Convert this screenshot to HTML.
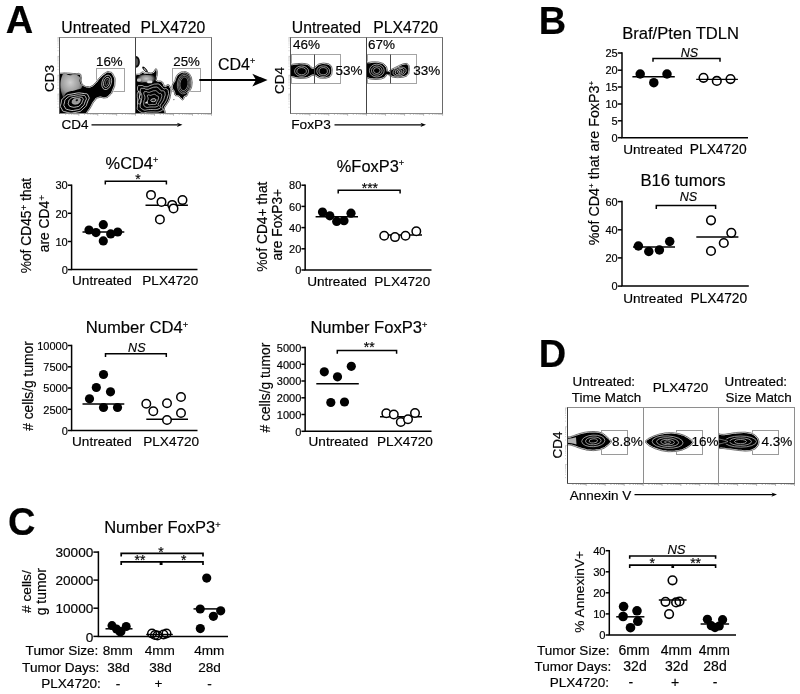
<!DOCTYPE html>
<html><head><meta charset="utf-8"><title>Figure</title>
<style>
html,body{margin:0;padding:0;background:#fff;}
svg{display:block;}
svg text{font-family:"Liberation Sans", Arial, Helvetica, sans-serif;fill:#000;stroke:#000;stroke-width:0.18px;}
</style></head><body>
<svg width="800" height="694" viewBox="0 0 800 694">
<rect width="800" height="694" fill="#fff"/>
<g opacity="0.999">
<text x="5.70" y="33.20" font-size="38.00" text-anchor="start" font-weight="bold" stroke="#000" stroke-width="0.6">A</text>
<text x="538.80" y="33.60" font-size="38.00" text-anchor="start" font-weight="bold" stroke="#000" stroke-width="0.6">B</text>
<text x="8.00" y="535.00" font-size="38.00" text-anchor="start" font-weight="bold" stroke="#000" stroke-width="0.6">C</text>
<text x="538.70" y="366.90" font-size="38.00" text-anchor="start" font-weight="bold" stroke="#000" stroke-width="0.6">D</text>
<defs><filter id="soft" x="-5%" y="-5%" width="110%" height="110%"><feGaussianBlur stdDeviation="0.35"/></filter><linearGradient id="gfade" x1="0" y1="0" x2="1" y2="1"><stop offset="0" stop-color="#bbb"/><stop offset="1" stop-color="#222"/></linearGradient><radialGradient id="ggrey2" cx="0.45" cy="0.4" r="0.75"><stop offset="0" stop-color="#cfcfcf"/><stop offset="0.55" stop-color="#9a9a9a"/><stop offset="1" stop-color="#2a2a2a"/></radialGradient><radialGradient id="ggrey"><stop offset="0" stop-color="#c8c8c8"/><stop offset="0.6" stop-color="#888"/><stop offset="1" stop-color="#000"/></radialGradient></defs>
<text x="61.30" y="32.90" font-size="15.75" text-anchor="start">Untreated</text>
<text x="140.40" y="32.90" font-size="15.75" text-anchor="start">PLX4720</text>
<rect x="96.50" y="68.50" width="28.00" height="23.00" fill="none" stroke="#a4a4a4" stroke-width="1.00"/>
<rect x="172.50" y="68.50" width="28.00" height="23.00" fill="none" stroke="#a4a4a4" stroke-width="1.00"/>
<g filter="url(#soft)">
<clipPath id="c1"><rect x="60" y="38" width="75" height="75"/></clipPath>
<g clip-path="url(#c1)">
<path d="M40.00 73.20 C44.00 57.60 45.33 73.20 52.00 73.20 C58.67 73.20 55.33 73.27 60.00 73.20 C64.67 73.13 61.00 72.87 66.00 73.00 C71.00 73.13 70.50 73.33 75.00 73.60 C79.50 73.87 77.43 72.80 79.50 73.80 C81.57 74.80 80.50 73.70 81.20 76.60 C81.90 79.50 80.60 79.50 81.60 82.50 C82.60 85.50 82.07 84.23 84.20 85.60 C86.33 86.97 85.57 86.47 88.00 86.60 C90.43 86.73 88.97 87.37 91.50 86.00 C94.03 84.63 92.77 85.43 95.60 82.50 C98.43 79.57 96.80 80.40 100.00 77.20 C103.20 74.00 102.00 74.67 105.20 72.90 C108.40 71.13 106.80 71.10 109.60 71.90 C112.40 72.70 111.80 71.77 113.60 75.30 C115.40 78.83 115.23 77.47 115.00 82.50 C114.77 87.53 114.70 86.03 112.90 90.40 C111.10 94.77 112.17 93.10 109.60 95.60 C107.03 98.10 108.70 97.23 105.20 97.90 C101.70 98.57 102.60 96.60 99.10 97.60 C95.60 98.60 97.60 97.47 94.70 100.90 C91.80 104.33 93.13 103.53 90.40 107.90 C87.67 112.27 88.63 109.97 86.50 114.00 C84.37 118.03 99.50 118.00 84.00 120.00 C68.50 122.00 54.67 135.60 40.00 120.00 C25.33 104.40 36.00 88.80 40.00 73.20 Z" fill="#000"/>
<path d="M40.00 73.20 C44.00 57.60 45.33 73.20 52.00 73.20 C58.67 73.20 55.33 73.27 60.00 73.20 C64.67 73.13 61.00 72.87 66.00 73.00 C71.00 73.13 70.50 73.33 75.00 73.60 C79.50 73.87 77.43 72.80 79.50 73.80 C81.57 74.80 80.50 73.70 81.20 76.60 C81.90 79.50 80.60 79.50 81.60 82.50 C82.60 85.50 82.07 84.23 84.20 85.60 C86.33 86.97 85.57 86.47 88.00 86.60 C90.43 86.73 88.97 87.37 91.50 86.00 C94.03 84.63 92.77 85.43 95.60 82.50 C98.43 79.57 96.80 80.40 100.00 77.20 C103.20 74.00 102.00 74.67 105.20 72.90 C108.40 71.13 106.80 71.10 109.60 71.90 C112.40 72.70 111.80 71.77 113.60 75.30 C115.40 78.83 115.23 77.47 115.00 82.50 C114.77 87.53 114.70 86.03 112.90 90.40 C111.10 94.77 112.17 93.10 109.60 95.60 C107.03 98.10 108.70 97.23 105.20 97.90 C101.70 98.57 102.60 96.60 99.10 97.60 C95.60 98.60 97.60 97.47 94.70 100.90 C91.80 104.33 93.13 103.53 90.40 107.90 C87.67 112.27 88.63 109.97 86.50 114.00 C84.37 118.03 99.50 118.00 84.00 120.00 C68.50 122.00 54.67 135.60 40.00 120.00 C25.33 104.40 36.00 88.80 40.00 73.20 Z" fill="none" stroke="#fff" stroke-width="1.7"/>
<path d="M40.00 73.20 C44.00 57.60 45.33 73.20 52.00 73.20 C58.67 73.20 55.33 73.27 60.00 73.20 C64.67 73.13 61.00 72.87 66.00 73.00 C71.00 73.13 70.50 73.33 75.00 73.60 C79.50 73.87 77.43 72.80 79.50 73.80 C81.57 74.80 80.50 73.70 81.20 76.60 C81.90 79.50 80.60 79.50 81.60 82.50 C82.60 85.50 82.07 84.23 84.20 85.60 C86.33 86.97 85.57 86.47 88.00 86.60 C90.43 86.73 88.97 87.37 91.50 86.00 C94.03 84.63 92.77 85.43 95.60 82.50 C98.43 79.57 96.80 80.40 100.00 77.20 C103.20 74.00 102.00 74.67 105.20 72.90 C108.40 71.13 106.80 71.10 109.60 71.90 C112.40 72.70 111.80 71.77 113.60 75.30 C115.40 78.83 115.23 77.47 115.00 82.50 C114.77 87.53 114.70 86.03 112.90 90.40 C111.10 94.77 112.17 93.10 109.60 95.60 C107.03 98.10 108.70 97.23 105.20 97.90 C101.70 98.57 102.60 96.60 99.10 97.60 C95.60 98.60 97.60 97.47 94.70 100.90 C91.80 104.33 93.13 103.53 90.40 107.90 C87.67 112.27 88.63 109.97 86.50 114.00 C84.37 118.03 99.50 118.00 84.00 120.00 C68.50 122.00 54.67 135.60 40.00 120.00 C25.33 104.40 36.00 88.80 40.00 73.20 Z" fill="none" stroke="#000" stroke-width="0.6"/>
<path d="M62.00 76.00 C64.60 69.40 64.40 75.13 70.00 75.20 C75.60 75.27 75.53 73.93 78.80 76.20 C82.07 78.47 78.73 78.40 79.80 82.00 C80.87 85.60 83.27 84.33 82.00 87.00 C80.73 89.67 80.67 88.33 76.00 90.00 C71.33 91.67 72.60 90.33 68.00 92.00 C63.40 93.67 64.20 100.33 62.20 95.00 C60.20 89.67 59.40 82.60 62.00 76.00 Z" fill="url(#ggrey2)" stroke="none" stroke-width="0.00"/>
<path d="M61.00 103.50 C62.00 99.67 60.50 100.23 64.50 97.00 C68.50 93.77 66.83 95.00 73.00 93.80 C79.17 92.60 77.87 92.67 83.00 93.40 C88.13 94.13 86.90 93.13 88.40 96.00 C89.90 98.87 89.13 97.83 87.50 102.00 C85.87 106.17 87.33 105.07 83.50 108.50 C79.67 111.93 81.83 111.13 76.00 112.30 C70.17 113.47 70.83 113.27 66.00 112.00 C61.17 110.73 63.17 111.33 61.50 108.50 C59.83 105.67 60.00 107.33 61.00 103.50 Z" fill="none" stroke="#fff" stroke-width="0.80"/>
<path d="M64.37 103.08 C65.15 100.09 63.98 100.53 67.10 98.01 C70.22 95.49 68.92 96.45 73.73 95.52 C78.54 94.58 77.52 94.63 81.53 95.20 C85.53 95.78 84.57 95.00 85.74 97.23 C86.91 99.47 86.31 98.66 85.04 101.91 C83.76 105.16 84.91 104.30 81.92 106.98 C78.93 109.66 80.62 109.04 76.07 109.95 C71.52 110.86 72.04 110.70 68.27 109.71 C64.50 108.72 66.06 109.19 64.76 106.98 C63.46 104.77 63.59 106.07 64.37 103.08 Z" fill="none" stroke="#fff" stroke-width="0.75"/>
<path d="M68.58 102.30 C69.10 100.31 68.32 100.60 70.40 98.92 C72.48 97.24 71.62 97.88 74.82 97.26 C78.03 96.63 77.35 96.67 80.02 97.05 C82.69 97.43 82.05 96.91 82.83 98.40 C83.61 99.89 83.21 99.35 82.36 101.52 C81.51 103.69 82.28 103.11 80.28 104.90 C78.29 106.69 79.42 106.27 76.38 106.88 C73.35 107.48 73.70 107.38 71.18 106.72 C68.67 106.06 69.71 106.37 68.84 104.90 C67.98 103.43 68.06 104.29 68.58 102.30 Z" fill="none" stroke="#fff" stroke-width="0.75"/>
<path d="M72.20 101.47 C72.50 100.32 72.05 100.49 73.25 99.52 C74.45 98.55 73.95 98.92 75.80 98.56 C77.65 98.20 77.26 98.22 78.80 98.44 C80.34 98.66 79.97 98.36 80.42 99.22 C80.87 100.08 80.64 99.77 80.15 101.02 C79.66 102.27 80.10 101.94 78.95 102.97 C77.80 104.00 78.45 103.76 76.70 104.11 C74.95 104.46 75.15 104.40 73.70 104.02 C72.25 103.64 72.85 103.82 72.35 102.97 C71.85 102.12 71.90 102.62 72.20 101.47 Z" fill="#9a9a9a" stroke="#ddd" stroke-width="0.50"/>
<ellipse cx="76.90" cy="100.20" rx="1.30" ry="0.90" transform="rotate(-20 76.90 100.20)" fill="#111" stroke="none" stroke-width="0.60"/>
<ellipse cx="106.70" cy="82.40" rx="4.70" ry="7.40" transform="rotate(16 106.70 82.40)" fill="none" stroke="#fff" stroke-width="0.60"/>
<ellipse cx="106.70" cy="82.40" rx="3.00" ry="5.20" transform="rotate(16 106.70 82.40)" fill="none" stroke="#fff" stroke-width="0.60"/>
<ellipse cx="106.80" cy="82.30" rx="1.30" ry="3.20" transform="rotate(16 106.80 82.30)" fill="#000" stroke="#ccc" stroke-width="0.40"/>
</g>
<clipPath id="c2"><rect x="136" y="38" width="75" height="75"/></clipPath>
<g clip-path="url(#c2)">
<ellipse cx="136.00" cy="61.90" rx="3.90" ry="5.80" transform="rotate(0 136.00 61.90)" fill="#111" stroke="none" stroke-width="0.60"/>
<ellipse cx="136.20" cy="61.90" rx="1.90" ry="3.60" transform="rotate(0 136.20 61.90)" fill="#555" stroke="none" stroke-width="0.60"/>
<ellipse cx="145.10" cy="69.70" rx="1.30" ry="3.90" transform="rotate(-42 145.10 69.70)" fill="#000" stroke="none" stroke-width="0.60"/>
<ellipse cx="145.10" cy="69.70" rx="0.45" ry="2.20" transform="rotate(-42 145.10 69.70)" fill="#e8e8e8" stroke="none" stroke-width="0.60"/>
<path d="M120.00 74.50 C123.33 59.30 124.17 74.50 130.00 74.40 C135.83 74.30 134.13 74.47 137.50 74.20 C140.87 73.93 138.43 74.37 140.10 73.60 C141.77 72.83 140.70 72.03 142.50 71.90 C144.30 71.77 143.60 72.97 145.50 73.20 C147.40 73.43 146.03 72.73 148.20 72.60 C150.37 72.47 150.00 73.40 152.00 72.80 C154.00 72.20 152.93 72.13 154.20 70.80 C155.47 69.47 154.80 68.73 155.80 68.80 C156.80 68.87 156.70 69.03 157.20 71.00 C157.70 72.97 157.50 72.37 157.30 74.70 C157.10 77.03 156.63 76.03 156.60 78.00 C156.57 79.97 155.57 79.47 157.20 80.60 C158.83 81.73 159.43 80.40 161.50 81.40 C163.57 82.40 162.30 82.07 163.40 83.60 C164.50 85.13 163.20 85.63 164.80 86.00 C166.40 86.37 166.40 84.37 168.20 84.70 C170.00 85.03 169.20 85.23 170.20 87.00 C171.20 88.77 171.07 87.43 171.20 90.00 C171.33 92.57 171.27 91.23 170.60 94.70 C169.93 98.17 170.63 96.90 169.20 100.40 C167.77 103.90 167.90 102.33 166.30 105.20 C164.70 108.07 164.77 106.73 164.40 109.00 C164.03 111.27 164.80 108.33 165.20 112.00 C165.60 115.67 180.67 117.33 165.60 120.00 C150.53 122.67 135.20 135.17 120.00 120.00 C104.80 104.83 116.67 89.70 120.00 74.50 Z" fill="#000"/>
<path d="M120.00 74.50 C123.33 59.30 124.17 74.50 130.00 74.40 C135.83 74.30 134.13 74.47 137.50 74.20 C140.87 73.93 138.43 74.37 140.10 73.60 C141.77 72.83 140.70 72.03 142.50 71.90 C144.30 71.77 143.60 72.97 145.50 73.20 C147.40 73.43 146.03 72.73 148.20 72.60 C150.37 72.47 150.00 73.40 152.00 72.80 C154.00 72.20 152.93 72.13 154.20 70.80 C155.47 69.47 154.80 68.73 155.80 68.80 C156.80 68.87 156.70 69.03 157.20 71.00 C157.70 72.97 157.50 72.37 157.30 74.70 C157.10 77.03 156.63 76.03 156.60 78.00 C156.57 79.97 155.57 79.47 157.20 80.60 C158.83 81.73 159.43 80.40 161.50 81.40 C163.57 82.40 162.30 82.07 163.40 83.60 C164.50 85.13 163.20 85.63 164.80 86.00 C166.40 86.37 166.40 84.37 168.20 84.70 C170.00 85.03 169.20 85.23 170.20 87.00 C171.20 88.77 171.07 87.43 171.20 90.00 C171.33 92.57 171.27 91.23 170.60 94.70 C169.93 98.17 170.63 96.90 169.20 100.40 C167.77 103.90 167.90 102.33 166.30 105.20 C164.70 108.07 164.77 106.73 164.40 109.00 C164.03 111.27 164.80 108.33 165.20 112.00 C165.60 115.67 180.67 117.33 165.60 120.00 C150.53 122.67 135.20 135.17 120.00 120.00 C104.80 104.83 116.67 89.70 120.00 74.50 Z" fill="none" stroke="#fff" stroke-width="1.7"/>
<path d="M120.00 74.50 C123.33 59.30 124.17 74.50 130.00 74.40 C135.83 74.30 134.13 74.47 137.50 74.20 C140.87 73.93 138.43 74.37 140.10 73.60 C141.77 72.83 140.70 72.03 142.50 71.90 C144.30 71.77 143.60 72.97 145.50 73.20 C147.40 73.43 146.03 72.73 148.20 72.60 C150.37 72.47 150.00 73.40 152.00 72.80 C154.00 72.20 152.93 72.13 154.20 70.80 C155.47 69.47 154.80 68.73 155.80 68.80 C156.80 68.87 156.70 69.03 157.20 71.00 C157.70 72.97 157.50 72.37 157.30 74.70 C157.10 77.03 156.63 76.03 156.60 78.00 C156.57 79.97 155.57 79.47 157.20 80.60 C158.83 81.73 159.43 80.40 161.50 81.40 C163.57 82.40 162.30 82.07 163.40 83.60 C164.50 85.13 163.20 85.63 164.80 86.00 C166.40 86.37 166.40 84.37 168.20 84.70 C170.00 85.03 169.20 85.23 170.20 87.00 C171.20 88.77 171.07 87.43 171.20 90.00 C171.33 92.57 171.27 91.23 170.60 94.70 C169.93 98.17 170.63 96.90 169.20 100.40 C167.77 103.90 167.90 102.33 166.30 105.20 C164.70 108.07 164.77 106.73 164.40 109.00 C164.03 111.27 164.80 108.33 165.20 112.00 C165.60 115.67 180.67 117.33 165.60 120.00 C150.53 122.67 135.20 135.17 120.00 120.00 C104.80 104.83 116.67 89.70 120.00 74.50 Z" fill="none" stroke="#000" stroke-width="0.6"/>
<path d="M138.00 76.50 C139.83 74.37 139.33 75.10 143.00 74.60 C146.67 74.10 145.17 75.37 149.00 75.00 C152.83 74.63 152.33 72.83 154.50 73.50 C156.67 74.17 155.47 74.67 155.50 77.00 C155.53 79.33 156.43 78.57 154.60 80.50 C152.77 82.43 153.53 82.23 150.00 82.80 C146.47 83.37 147.33 81.80 144.00 82.20 C140.67 82.60 142.17 84.40 140.00 84.00 C137.83 83.60 138.17 83.50 137.50 81.00 C136.83 78.50 136.17 78.63 138.00 76.50 Z" fill="url(#ggrey)" stroke="none" stroke-width="0.00"/>
<rect x="147.2" y="80.6" width="5.2" height="2.6" rx="1.2" fill="#ddd"/>
<rect x="137" y="78.5" width="4" height="3.2" rx="1.2" fill="#bbb"/>
<path d="M137.50 88.00 C138.00 84.50 138.17 85.90 141.00 85.50 C143.83 85.10 142.67 86.90 146.00 86.80 C149.33 86.70 147.67 86.13 151.00 85.20 C154.33 84.27 153.00 84.07 156.00 84.00 C159.00 83.93 157.50 83.50 160.00 85.00 C162.50 86.50 161.33 87.23 163.50 88.50 C165.67 89.77 164.87 87.63 166.50 88.80 C168.13 89.97 168.03 89.27 168.40 92.00 C168.77 94.73 168.57 93.67 167.60 97.00 C166.63 100.33 167.20 98.83 165.50 102.00 C163.80 105.17 164.00 103.50 162.50 106.50 C161.00 109.50 165.17 109.17 161.00 111.00 C156.83 112.83 157.00 111.83 150.00 112.00 C143.00 112.17 144.17 114.17 140.00 111.50 C135.83 108.83 137.67 109.17 137.50 104.00 C137.33 98.83 139.50 101.33 139.50 96.00 C139.50 90.67 137.00 91.50 137.50 88.00 Z" fill="none" stroke="#fff" stroke-width="0.65"/>
<path d="M140.30 90.30 C140.70 87.50 140.83 88.62 143.10 88.30 C145.37 87.98 144.43 89.42 147.10 89.34 C149.77 89.26 148.43 88.81 151.10 88.06 C153.77 87.31 152.70 87.15 155.10 87.10 C157.50 87.05 156.30 86.70 158.30 87.90 C160.30 89.10 159.37 89.69 161.10 90.70 C162.83 91.71 162.19 90.01 163.50 90.94 C164.81 91.87 164.73 91.31 165.02 93.50 C165.31 95.69 165.15 94.83 164.38 97.50 C163.61 100.17 164.06 98.97 162.70 101.50 C161.34 104.03 161.50 102.70 160.30 105.10 C159.10 107.50 162.43 107.23 159.10 108.70 C155.77 110.17 155.90 109.37 150.30 109.50 C144.70 109.63 145.63 111.23 142.30 109.10 C138.97 106.97 140.43 107.23 140.30 103.10 C140.17 98.97 141.90 100.97 141.90 96.70 C141.90 92.43 139.90 93.10 140.30 90.30 Z" fill="none" stroke="#fff" stroke-width="0.65"/>
<path d="M143.80 93.04 C144.09 91.01 144.19 91.82 145.83 91.59 C147.47 91.36 146.80 92.40 148.73 92.34 C150.66 92.29 149.70 91.96 151.63 91.42 C153.56 90.87 152.79 90.76 154.53 90.72 C156.27 90.68 155.40 90.43 156.85 91.30 C158.30 92.17 157.62 92.60 158.88 93.33 C160.14 94.06 159.67 92.83 160.62 93.50 C161.57 94.18 161.51 93.77 161.72 95.36 C161.93 96.95 161.82 96.33 161.26 98.26 C160.70 100.19 161.03 99.32 160.04 101.16 C159.05 103.00 159.17 102.03 158.30 103.77 C157.43 105.51 159.85 105.32 157.43 106.38 C155.01 107.44 155.11 106.86 151.05 106.96 C146.99 107.06 147.67 108.22 145.25 106.67 C142.83 105.12 143.90 105.32 143.80 102.32 C143.70 99.32 144.96 100.77 144.96 97.68 C144.96 94.59 143.51 95.07 143.80 93.04 Z" fill="none" stroke="#fff" stroke-width="0.60"/>
<path d="M147.42 95.81 C147.60 94.55 147.66 95.05 148.68 94.91 C149.70 94.76 149.28 95.41 150.48 95.38 C151.68 95.34 151.08 95.14 152.28 94.80 C153.48 94.46 153.00 94.39 154.08 94.37 C155.16 94.34 154.62 94.19 155.52 94.73 C156.42 95.27 156.00 95.53 156.78 95.99 C157.56 96.44 157.27 95.68 157.86 96.10 C158.45 96.52 158.41 96.26 158.54 97.25 C158.68 98.23 158.60 97.85 158.26 99.05 C157.91 100.25 158.11 99.71 157.50 100.85 C156.89 101.99 156.96 101.39 156.42 102.47 C155.88 103.55 157.38 103.43 155.88 104.09 C154.38 104.75 154.44 104.39 151.92 104.45 C149.40 104.51 149.82 105.23 148.32 104.27 C146.82 103.31 147.48 103.43 147.42 101.57 C147.36 99.71 148.14 100.61 148.14 98.69 C148.14 96.77 147.24 97.07 147.42 95.81 Z" fill="none" stroke="#fff" stroke-width="0.60"/>
<ellipse cx="153.40" cy="100.20" rx="2.60" ry="1.50" transform="rotate(-8 153.40 100.20)" fill="#222" stroke="#fff" stroke-width="0.70"/>
<ellipse cx="146.50" cy="102.50" rx="1.40" ry="0.80" transform="rotate(-30 146.50 102.50)" fill="#eee" stroke="none" stroke-width="0.60"/>
<path d="M138.00 92.00 C139.00 90.33 140.00 92.17 140.50 94.00 C141.00 95.83 139.17 95.33 139.50 97.50 C139.83 99.67 141.67 98.33 141.50 100.50 C141.33 102.67 140.33 104.50 139.00 104.00 C137.67 103.50 137.83 103.00 137.50 99.00 C137.17 95.00 137.00 93.67 138.00 92.00 Z" fill="none" stroke="#fff" stroke-width="0.60"/>
<path d="M183.50 71.80 C186.27 71.60 185.20 71.37 187.50 72.60 C189.80 73.83 188.97 73.03 190.40 75.50 C191.83 77.97 191.30 76.83 191.80 80.00 C192.30 83.17 192.30 81.83 191.90 85.00 C191.50 88.17 191.83 86.90 190.60 89.50 C189.37 92.10 189.40 90.70 188.20 92.80 C187.00 94.90 188.23 94.40 187.00 95.80 C185.77 97.20 185.83 95.67 184.50 97.00 C183.17 98.33 184.33 99.33 183.00 99.80 C181.67 100.27 182.10 99.60 180.50 98.40 C178.90 97.20 180.03 97.27 178.20 96.20 C176.37 95.13 176.33 96.60 175.00 95.20 C173.67 93.80 175.13 94.23 174.20 92.00 C173.27 89.77 172.73 91.17 172.20 88.50 C171.67 85.83 171.73 86.67 172.60 84.00 C173.47 81.33 173.60 83.00 174.80 80.50 C176.00 78.00 174.73 78.93 176.20 76.50 C177.67 74.07 176.77 74.77 179.20 73.20 C181.63 71.63 180.73 72.00 183.50 71.80 Z" fill="#000"/>
<path d="M183.50 71.80 C186.27 71.60 185.20 71.37 187.50 72.60 C189.80 73.83 188.97 73.03 190.40 75.50 C191.83 77.97 191.30 76.83 191.80 80.00 C192.30 83.17 192.30 81.83 191.90 85.00 C191.50 88.17 191.83 86.90 190.60 89.50 C189.37 92.10 189.40 90.70 188.20 92.80 C187.00 94.90 188.23 94.40 187.00 95.80 C185.77 97.20 185.83 95.67 184.50 97.00 C183.17 98.33 184.33 99.33 183.00 99.80 C181.67 100.27 182.10 99.60 180.50 98.40 C178.90 97.20 180.03 97.27 178.20 96.20 C176.37 95.13 176.33 96.60 175.00 95.20 C173.67 93.80 175.13 94.23 174.20 92.00 C173.27 89.77 172.73 91.17 172.20 88.50 C171.67 85.83 171.73 86.67 172.60 84.00 C173.47 81.33 173.60 83.00 174.80 80.50 C176.00 78.00 174.73 78.93 176.20 76.50 C177.67 74.07 176.77 74.77 179.20 73.20 C181.63 71.63 180.73 72.00 183.50 71.80 Z" fill="none" stroke="#fff" stroke-width="1.7"/>
<path d="M183.50 71.80 C186.27 71.60 185.20 71.37 187.50 72.60 C189.80 73.83 188.97 73.03 190.40 75.50 C191.83 77.97 191.30 76.83 191.80 80.00 C192.30 83.17 192.30 81.83 191.90 85.00 C191.50 88.17 191.83 86.90 190.60 89.50 C189.37 92.10 189.40 90.70 188.20 92.80 C187.00 94.90 188.23 94.40 187.00 95.80 C185.77 97.20 185.83 95.67 184.50 97.00 C183.17 98.33 184.33 99.33 183.00 99.80 C181.67 100.27 182.10 99.60 180.50 98.40 C178.90 97.20 180.03 97.27 178.20 96.20 C176.37 95.13 176.33 96.60 175.00 95.20 C173.67 93.80 175.13 94.23 174.20 92.00 C173.27 89.77 172.73 91.17 172.20 88.50 C171.67 85.83 171.73 86.67 172.60 84.00 C173.47 81.33 173.60 83.00 174.80 80.50 C176.00 78.00 174.73 78.93 176.20 76.50 C177.67 74.07 176.77 74.77 179.20 73.20 C181.63 71.63 180.73 72.00 183.50 71.80 Z" fill="none" stroke="#000" stroke-width="0.6"/>
<ellipse cx="184.00" cy="83.80" rx="6.60" ry="10.20" transform="rotate(8 184.00 83.80)" fill="none" stroke="#ccc" stroke-width="0.55"/>
<ellipse cx="184.00" cy="83.80" rx="5.30" ry="8.60" transform="rotate(8 184.00 83.80)" fill="none" stroke="#ccc" stroke-width="0.55"/>
<ellipse cx="184.00" cy="83.80" rx="4.00" ry="6.90" transform="rotate(8 184.00 83.80)" fill="none" stroke="#ccc" stroke-width="0.55"/>
<ellipse cx="184.30" cy="83.70" rx="2.30" ry="4.40" transform="rotate(8 184.30 83.70)" fill="#000" stroke="none" stroke-width="0.60"/>
<circle cx="173.9" cy="99.6" r="0.55" fill="#333"/>
</g>
</g>
<line x1="57.50" y1="107.32" x2="58.50" y2="107.32" stroke="#999" stroke-width="0.50" stroke-linecap="butt"/>
<line x1="57.50" y1="103.99" x2="58.50" y2="103.99" stroke="#999" stroke-width="0.50" stroke-linecap="butt"/>
<line x1="57.50" y1="101.64" x2="58.50" y2="101.64" stroke="#999" stroke-width="0.50" stroke-linecap="butt"/>
<line x1="57.50" y1="99.81" x2="58.50" y2="99.81" stroke="#999" stroke-width="0.50" stroke-linecap="butt"/>
<line x1="57.50" y1="98.31" x2="58.50" y2="98.31" stroke="#999" stroke-width="0.50" stroke-linecap="butt"/>
<line x1="57.50" y1="97.05" x2="58.50" y2="97.05" stroke="#999" stroke-width="0.50" stroke-linecap="butt"/>
<line x1="57.50" y1="95.95" x2="58.50" y2="95.95" stroke="#999" stroke-width="0.50" stroke-linecap="butt"/>
<line x1="57.50" y1="94.99" x2="58.50" y2="94.99" stroke="#999" stroke-width="0.50" stroke-linecap="butt"/>
<line x1="57.50" y1="94.12" x2="59.30" y2="94.12" stroke="#999" stroke-width="0.50" stroke-linecap="butt"/>
<line x1="57.50" y1="88.44" x2="58.50" y2="88.44" stroke="#999" stroke-width="0.50" stroke-linecap="butt"/>
<line x1="57.50" y1="85.12" x2="58.50" y2="85.12" stroke="#999" stroke-width="0.50" stroke-linecap="butt"/>
<line x1="57.50" y1="82.76" x2="58.50" y2="82.76" stroke="#999" stroke-width="0.50" stroke-linecap="butt"/>
<line x1="57.50" y1="80.93" x2="58.50" y2="80.93" stroke="#999" stroke-width="0.50" stroke-linecap="butt"/>
<line x1="57.50" y1="79.44" x2="58.50" y2="79.44" stroke="#999" stroke-width="0.50" stroke-linecap="butt"/>
<line x1="57.50" y1="78.17" x2="58.50" y2="78.17" stroke="#999" stroke-width="0.50" stroke-linecap="butt"/>
<line x1="57.50" y1="77.08" x2="58.50" y2="77.08" stroke="#999" stroke-width="0.50" stroke-linecap="butt"/>
<line x1="57.50" y1="76.11" x2="58.50" y2="76.11" stroke="#999" stroke-width="0.50" stroke-linecap="butt"/>
<line x1="57.50" y1="75.25" x2="59.30" y2="75.25" stroke="#999" stroke-width="0.50" stroke-linecap="butt"/>
<line x1="57.50" y1="69.57" x2="58.50" y2="69.57" stroke="#999" stroke-width="0.50" stroke-linecap="butt"/>
<line x1="57.50" y1="66.24" x2="58.50" y2="66.24" stroke="#999" stroke-width="0.50" stroke-linecap="butt"/>
<line x1="57.50" y1="63.89" x2="58.50" y2="63.89" stroke="#999" stroke-width="0.50" stroke-linecap="butt"/>
<line x1="57.50" y1="62.06" x2="58.50" y2="62.06" stroke="#999" stroke-width="0.50" stroke-linecap="butt"/>
<line x1="57.50" y1="60.56" x2="58.50" y2="60.56" stroke="#999" stroke-width="0.50" stroke-linecap="butt"/>
<line x1="57.50" y1="59.30" x2="58.50" y2="59.30" stroke="#999" stroke-width="0.50" stroke-linecap="butt"/>
<line x1="57.50" y1="58.20" x2="58.50" y2="58.20" stroke="#999" stroke-width="0.50" stroke-linecap="butt"/>
<line x1="57.50" y1="57.24" x2="58.50" y2="57.24" stroke="#999" stroke-width="0.50" stroke-linecap="butt"/>
<line x1="57.50" y1="56.38" x2="59.30" y2="56.38" stroke="#999" stroke-width="0.50" stroke-linecap="butt"/>
<line x1="57.50" y1="50.69" x2="58.50" y2="50.69" stroke="#999" stroke-width="0.50" stroke-linecap="butt"/>
<line x1="57.50" y1="47.37" x2="58.50" y2="47.37" stroke="#999" stroke-width="0.50" stroke-linecap="butt"/>
<line x1="57.50" y1="45.01" x2="58.50" y2="45.01" stroke="#999" stroke-width="0.50" stroke-linecap="butt"/>
<line x1="57.50" y1="43.18" x2="58.50" y2="43.18" stroke="#999" stroke-width="0.50" stroke-linecap="butt"/>
<line x1="57.50" y1="41.69" x2="58.50" y2="41.69" stroke="#999" stroke-width="0.50" stroke-linecap="butt"/>
<line x1="57.50" y1="40.42" x2="58.50" y2="40.42" stroke="#999" stroke-width="0.50" stroke-linecap="butt"/>
<line x1="57.50" y1="39.33" x2="58.50" y2="39.33" stroke="#999" stroke-width="0.50" stroke-linecap="butt"/>
<line x1="57.50" y1="38.36" x2="58.50" y2="38.36" stroke="#999" stroke-width="0.50" stroke-linecap="butt"/>
<line x1="57.50" y1="37.50" x2="59.30" y2="37.50" stroke="#999" stroke-width="0.50" stroke-linecap="butt"/>
<line x1="65.68" y1="113.60" x2="65.68" y2="114.80" stroke="#777" stroke-width="0.50" stroke-linecap="butt"/>
<line x1="69.01" y1="113.60" x2="69.01" y2="114.80" stroke="#777" stroke-width="0.50" stroke-linecap="butt"/>
<line x1="71.36" y1="113.60" x2="71.36" y2="114.80" stroke="#777" stroke-width="0.50" stroke-linecap="butt"/>
<line x1="73.19" y1="113.60" x2="73.19" y2="114.80" stroke="#777" stroke-width="0.50" stroke-linecap="butt"/>
<line x1="74.69" y1="113.60" x2="74.69" y2="114.80" stroke="#777" stroke-width="0.50" stroke-linecap="butt"/>
<line x1="75.95" y1="113.60" x2="75.95" y2="114.80" stroke="#777" stroke-width="0.50" stroke-linecap="butt"/>
<line x1="77.05" y1="113.60" x2="77.05" y2="114.80" stroke="#777" stroke-width="0.50" stroke-linecap="butt"/>
<line x1="78.01" y1="113.60" x2="78.01" y2="114.80" stroke="#777" stroke-width="0.50" stroke-linecap="butt"/>
<line x1="78.88" y1="113.60" x2="78.88" y2="115.80" stroke="#777" stroke-width="0.50" stroke-linecap="butt"/>
<line x1="84.56" y1="113.60" x2="84.56" y2="114.80" stroke="#777" stroke-width="0.50" stroke-linecap="butt"/>
<line x1="87.88" y1="113.60" x2="87.88" y2="114.80" stroke="#777" stroke-width="0.50" stroke-linecap="butt"/>
<line x1="90.24" y1="113.60" x2="90.24" y2="114.80" stroke="#777" stroke-width="0.50" stroke-linecap="butt"/>
<line x1="92.07" y1="113.60" x2="92.07" y2="114.80" stroke="#777" stroke-width="0.50" stroke-linecap="butt"/>
<line x1="93.56" y1="113.60" x2="93.56" y2="114.80" stroke="#777" stroke-width="0.50" stroke-linecap="butt"/>
<line x1="94.83" y1="113.60" x2="94.83" y2="114.80" stroke="#777" stroke-width="0.50" stroke-linecap="butt"/>
<line x1="95.92" y1="113.60" x2="95.92" y2="114.80" stroke="#777" stroke-width="0.50" stroke-linecap="butt"/>
<line x1="96.89" y1="113.60" x2="96.89" y2="114.80" stroke="#777" stroke-width="0.50" stroke-linecap="butt"/>
<line x1="97.75" y1="113.60" x2="97.75" y2="115.80" stroke="#777" stroke-width="0.50" stroke-linecap="butt"/>
<line x1="103.43" y1="113.60" x2="103.43" y2="114.80" stroke="#777" stroke-width="0.50" stroke-linecap="butt"/>
<line x1="106.76" y1="113.60" x2="106.76" y2="114.80" stroke="#777" stroke-width="0.50" stroke-linecap="butt"/>
<line x1="109.11" y1="113.60" x2="109.11" y2="114.80" stroke="#777" stroke-width="0.50" stroke-linecap="butt"/>
<line x1="110.94" y1="113.60" x2="110.94" y2="114.80" stroke="#777" stroke-width="0.50" stroke-linecap="butt"/>
<line x1="112.44" y1="113.60" x2="112.44" y2="114.80" stroke="#777" stroke-width="0.50" stroke-linecap="butt"/>
<line x1="113.70" y1="113.60" x2="113.70" y2="114.80" stroke="#777" stroke-width="0.50" stroke-linecap="butt"/>
<line x1="114.80" y1="113.60" x2="114.80" y2="114.80" stroke="#777" stroke-width="0.50" stroke-linecap="butt"/>
<line x1="115.76" y1="113.60" x2="115.76" y2="114.80" stroke="#777" stroke-width="0.50" stroke-linecap="butt"/>
<line x1="116.62" y1="113.60" x2="116.62" y2="115.80" stroke="#777" stroke-width="0.50" stroke-linecap="butt"/>
<line x1="122.31" y1="113.60" x2="122.31" y2="114.80" stroke="#777" stroke-width="0.50" stroke-linecap="butt"/>
<line x1="125.63" y1="113.60" x2="125.63" y2="114.80" stroke="#777" stroke-width="0.50" stroke-linecap="butt"/>
<line x1="127.99" y1="113.60" x2="127.99" y2="114.80" stroke="#777" stroke-width="0.50" stroke-linecap="butt"/>
<line x1="129.82" y1="113.60" x2="129.82" y2="114.80" stroke="#777" stroke-width="0.50" stroke-linecap="butt"/>
<line x1="131.31" y1="113.60" x2="131.31" y2="114.80" stroke="#777" stroke-width="0.50" stroke-linecap="butt"/>
<line x1="132.58" y1="113.60" x2="132.58" y2="114.80" stroke="#777" stroke-width="0.50" stroke-linecap="butt"/>
<line x1="133.67" y1="113.60" x2="133.67" y2="114.80" stroke="#777" stroke-width="0.50" stroke-linecap="butt"/>
<line x1="134.64" y1="113.60" x2="134.64" y2="114.80" stroke="#777" stroke-width="0.50" stroke-linecap="butt"/>
<line x1="135.50" y1="113.60" x2="135.50" y2="115.80" stroke="#777" stroke-width="0.50" stroke-linecap="butt"/>
<line x1="141.22" y1="113.60" x2="141.22" y2="114.80" stroke="#777" stroke-width="0.50" stroke-linecap="butt"/>
<line x1="144.57" y1="113.60" x2="144.57" y2="114.80" stroke="#777" stroke-width="0.50" stroke-linecap="butt"/>
<line x1="146.94" y1="113.60" x2="146.94" y2="114.80" stroke="#777" stroke-width="0.50" stroke-linecap="butt"/>
<line x1="148.78" y1="113.60" x2="148.78" y2="114.80" stroke="#777" stroke-width="0.50" stroke-linecap="butt"/>
<line x1="150.28" y1="113.60" x2="150.28" y2="114.80" stroke="#777" stroke-width="0.50" stroke-linecap="butt"/>
<line x1="151.56" y1="113.60" x2="151.56" y2="114.80" stroke="#777" stroke-width="0.50" stroke-linecap="butt"/>
<line x1="152.66" y1="113.60" x2="152.66" y2="114.80" stroke="#777" stroke-width="0.50" stroke-linecap="butt"/>
<line x1="153.63" y1="113.60" x2="153.63" y2="114.80" stroke="#777" stroke-width="0.50" stroke-linecap="butt"/>
<line x1="154.50" y1="113.60" x2="154.50" y2="115.80" stroke="#777" stroke-width="0.50" stroke-linecap="butt"/>
<line x1="160.22" y1="113.60" x2="160.22" y2="114.80" stroke="#777" stroke-width="0.50" stroke-linecap="butt"/>
<line x1="163.57" y1="113.60" x2="163.57" y2="114.80" stroke="#777" stroke-width="0.50" stroke-linecap="butt"/>
<line x1="165.94" y1="113.60" x2="165.94" y2="114.80" stroke="#777" stroke-width="0.50" stroke-linecap="butt"/>
<line x1="167.78" y1="113.60" x2="167.78" y2="114.80" stroke="#777" stroke-width="0.50" stroke-linecap="butt"/>
<line x1="169.28" y1="113.60" x2="169.28" y2="114.80" stroke="#777" stroke-width="0.50" stroke-linecap="butt"/>
<line x1="170.56" y1="113.60" x2="170.56" y2="114.80" stroke="#777" stroke-width="0.50" stroke-linecap="butt"/>
<line x1="171.66" y1="113.60" x2="171.66" y2="114.80" stroke="#777" stroke-width="0.50" stroke-linecap="butt"/>
<line x1="172.63" y1="113.60" x2="172.63" y2="114.80" stroke="#777" stroke-width="0.50" stroke-linecap="butt"/>
<line x1="173.50" y1="113.60" x2="173.50" y2="115.80" stroke="#777" stroke-width="0.50" stroke-linecap="butt"/>
<line x1="179.22" y1="113.60" x2="179.22" y2="114.80" stroke="#777" stroke-width="0.50" stroke-linecap="butt"/>
<line x1="182.57" y1="113.60" x2="182.57" y2="114.80" stroke="#777" stroke-width="0.50" stroke-linecap="butt"/>
<line x1="184.94" y1="113.60" x2="184.94" y2="114.80" stroke="#777" stroke-width="0.50" stroke-linecap="butt"/>
<line x1="186.78" y1="113.60" x2="186.78" y2="114.80" stroke="#777" stroke-width="0.50" stroke-linecap="butt"/>
<line x1="188.28" y1="113.60" x2="188.28" y2="114.80" stroke="#777" stroke-width="0.50" stroke-linecap="butt"/>
<line x1="189.56" y1="113.60" x2="189.56" y2="114.80" stroke="#777" stroke-width="0.50" stroke-linecap="butt"/>
<line x1="190.66" y1="113.60" x2="190.66" y2="114.80" stroke="#777" stroke-width="0.50" stroke-linecap="butt"/>
<line x1="191.63" y1="113.60" x2="191.63" y2="114.80" stroke="#777" stroke-width="0.50" stroke-linecap="butt"/>
<line x1="192.50" y1="113.60" x2="192.50" y2="115.80" stroke="#777" stroke-width="0.50" stroke-linecap="butt"/>
<line x1="198.22" y1="113.60" x2="198.22" y2="114.80" stroke="#777" stroke-width="0.50" stroke-linecap="butt"/>
<line x1="201.57" y1="113.60" x2="201.57" y2="114.80" stroke="#777" stroke-width="0.50" stroke-linecap="butt"/>
<line x1="203.94" y1="113.60" x2="203.94" y2="114.80" stroke="#777" stroke-width="0.50" stroke-linecap="butt"/>
<line x1="205.78" y1="113.60" x2="205.78" y2="114.80" stroke="#777" stroke-width="0.50" stroke-linecap="butt"/>
<line x1="207.28" y1="113.60" x2="207.28" y2="114.80" stroke="#777" stroke-width="0.50" stroke-linecap="butt"/>
<line x1="208.56" y1="113.60" x2="208.56" y2="114.80" stroke="#777" stroke-width="0.50" stroke-linecap="butt"/>
<line x1="209.66" y1="113.60" x2="209.66" y2="114.80" stroke="#777" stroke-width="0.50" stroke-linecap="butt"/>
<line x1="210.63" y1="113.60" x2="210.63" y2="114.80" stroke="#777" stroke-width="0.50" stroke-linecap="butt"/>
<line x1="211.50" y1="113.60" x2="211.50" y2="115.80" stroke="#777" stroke-width="0.50" stroke-linecap="butt"/>
<rect x="59.50" y="37.50" width="152.00" height="76.00" fill="none" stroke="#8c8c8c" stroke-width="1.00"/>
<line x1="59.50" y1="37.50" x2="59.50" y2="113.50" stroke="#555" stroke-width="1.00" stroke-linecap="butt"/>
<line x1="211.50" y1="37.50" x2="211.50" y2="113.50" stroke="#6a6a6a" stroke-width="1.00" stroke-linecap="butt"/>
<line x1="135.50" y1="37.50" x2="135.50" y2="113.50" stroke="#444" stroke-width="1.00" stroke-linecap="butt"/>
<text x="96.00" y="65.80" font-size="13.30" text-anchor="start">16%</text>
<text x="173.30" y="65.80" font-size="13.30" text-anchor="start">25%</text>
<text x="53.50" y="78.50" font-size="13.50" text-anchor="middle" transform="rotate(-90 53.50 78.50)">CD3</text>
<text x="61.50" y="129.30" font-size="13.50" text-anchor="start">CD4</text>
<line x1="91.50" y1="124.80" x2="178.40" y2="124.80" stroke="#000" stroke-width="1.20" stroke-linecap="butt"/>
<path d="M182.50 124.80 L176.90 122.70 L178.50 124.80 L176.90 126.90 Z" fill="#000"/>
<line x1="199.30" y1="80.10" x2="256.00" y2="80.10" stroke="#000" stroke-width="2.00" stroke-linecap="butt"/>
<path d="M267.6 80.1 L252.3 73.8 L256 80.1 L252.3 86.4 Z" fill="#000"/>
<text x="218.00" y="69.50" font-size="16.00" text-anchor="start">CD4<tspan dy="-5.12" font-size="8.96">+</tspan></text>
<text x="291.80" y="32.90" font-size="15.75" text-anchor="start">Untreated</text>
<text x="373.20" y="32.90" font-size="15.75" text-anchor="start">PLX4720</text>
<rect x="291.50" y="54.50" width="49.00" height="29.00" fill="none" stroke="#a4a4a4" stroke-width="1.00"/>
<rect x="367.50" y="54.50" width="49.00" height="29.00" fill="none" stroke="#a4a4a4" stroke-width="1.00"/>
<g filter="url(#soft)">
<clipPath id="c4"><rect x="291" y="38" width="75" height="75"/></clipPath>
<clipPath id="c5"><rect x="367" y="38" width="75" height="75"/></clipPath>
<g clip-path="url(#c4)">
<path d="M289.00 65.50 C290.33 61.57 289.67 64.87 293.00 64.20 C296.33 63.53 295.00 63.67 299.00 63.50 C303.00 63.33 301.67 63.20 305.00 63.70 C308.33 64.20 306.83 63.83 309.00 65.00 C311.17 66.17 310.17 66.27 311.50 67.20 C312.83 68.13 311.83 67.87 313.00 67.80 C314.17 67.73 313.50 68.00 315.00 67.00 C316.50 66.00 315.50 65.97 317.50 64.80 C319.50 63.63 318.17 63.97 321.00 63.50 C323.83 63.03 323.00 62.97 326.00 63.40 C329.00 63.83 328.03 63.27 330.00 64.80 C331.97 66.33 331.23 65.60 331.90 68.00 C332.57 70.40 332.30 69.50 332.00 72.00 C331.70 74.50 332.33 73.63 331.00 75.50 C329.67 77.37 330.67 76.70 328.00 77.60 C325.33 78.50 326.17 78.20 323.00 78.20 C319.83 78.20 321.00 78.40 318.50 77.60 C316.00 76.80 317.33 76.53 315.50 75.80 C313.67 75.07 314.50 75.33 313.00 75.40 C311.50 75.47 312.67 75.27 311.00 76.00 C309.33 76.73 310.67 76.83 308.00 77.60 C305.33 78.37 306.67 78.13 303.00 78.30 C299.33 78.47 300.50 78.53 297.00 78.10 C293.50 77.67 295.17 77.70 292.50 77.00 C289.83 76.30 290.17 79.83 289.00 76.00 C287.83 72.17 287.67 69.43 289.00 65.50 Z" fill="#000"/>
<path d="M289.00 65.50 C290.33 61.57 289.67 64.87 293.00 64.20 C296.33 63.53 295.00 63.67 299.00 63.50 C303.00 63.33 301.67 63.20 305.00 63.70 C308.33 64.20 306.83 63.83 309.00 65.00 C311.17 66.17 310.17 66.27 311.50 67.20 C312.83 68.13 311.83 67.87 313.00 67.80 C314.17 67.73 313.50 68.00 315.00 67.00 C316.50 66.00 315.50 65.97 317.50 64.80 C319.50 63.63 318.17 63.97 321.00 63.50 C323.83 63.03 323.00 62.97 326.00 63.40 C329.00 63.83 328.03 63.27 330.00 64.80 C331.97 66.33 331.23 65.60 331.90 68.00 C332.57 70.40 332.30 69.50 332.00 72.00 C331.70 74.50 332.33 73.63 331.00 75.50 C329.67 77.37 330.67 76.70 328.00 77.60 C325.33 78.50 326.17 78.20 323.00 78.20 C319.83 78.20 321.00 78.40 318.50 77.60 C316.00 76.80 317.33 76.53 315.50 75.80 C313.67 75.07 314.50 75.33 313.00 75.40 C311.50 75.47 312.67 75.27 311.00 76.00 C309.33 76.73 310.67 76.83 308.00 77.60 C305.33 78.37 306.67 78.13 303.00 78.30 C299.33 78.47 300.50 78.53 297.00 78.10 C293.50 77.67 295.17 77.70 292.50 77.00 C289.83 76.30 290.17 79.83 289.00 76.00 C287.83 72.17 287.67 69.43 289.00 65.50 Z" fill="none" stroke="#fff" stroke-width="1.7"/>
<path d="M289.00 65.50 C290.33 61.57 289.67 64.87 293.00 64.20 C296.33 63.53 295.00 63.67 299.00 63.50 C303.00 63.33 301.67 63.20 305.00 63.70 C308.33 64.20 306.83 63.83 309.00 65.00 C311.17 66.17 310.17 66.27 311.50 67.20 C312.83 68.13 311.83 67.87 313.00 67.80 C314.17 67.73 313.50 68.00 315.00 67.00 C316.50 66.00 315.50 65.97 317.50 64.80 C319.50 63.63 318.17 63.97 321.00 63.50 C323.83 63.03 323.00 62.97 326.00 63.40 C329.00 63.83 328.03 63.27 330.00 64.80 C331.97 66.33 331.23 65.60 331.90 68.00 C332.57 70.40 332.30 69.50 332.00 72.00 C331.70 74.50 332.33 73.63 331.00 75.50 C329.67 77.37 330.67 76.70 328.00 77.60 C325.33 78.50 326.17 78.20 323.00 78.20 C319.83 78.20 321.00 78.40 318.50 77.60 C316.00 76.80 317.33 76.53 315.50 75.80 C313.67 75.07 314.50 75.33 313.00 75.40 C311.50 75.47 312.67 75.27 311.00 76.00 C309.33 76.73 310.67 76.83 308.00 77.60 C305.33 78.37 306.67 78.13 303.00 78.30 C299.33 78.47 300.50 78.53 297.00 78.10 C293.50 77.67 295.17 77.70 292.50 77.00 C289.83 76.30 290.17 79.83 289.00 76.00 C287.83 72.17 287.67 69.43 289.00 65.50 Z" fill="none" stroke="#000" stroke-width="0.6"/>
<ellipse cx="301.60" cy="71.20" rx="7.00" ry="5.20" transform="rotate(0 301.60 71.20)" fill="none" stroke="#eee" stroke-width="0.60"/>
<ellipse cx="301.60" cy="71.20" rx="4.80" ry="3.60" transform="rotate(0 301.60 71.20)" fill="none" stroke="#eee" stroke-width="0.60"/>
<ellipse cx="302.20" cy="71.30" rx="2.60" ry="2.30" transform="rotate(0 302.20 71.30)" fill="#000" stroke="none" stroke-width="0.60"/>
<ellipse cx="323.20" cy="71.20" rx="6.40" ry="5.30" transform="rotate(0 323.20 71.20)" fill="none" stroke="#eee" stroke-width="0.60"/>
<ellipse cx="323.20" cy="71.20" rx="4.20" ry="3.60" transform="rotate(0 323.20 71.20)" fill="none" stroke="#eee" stroke-width="0.60"/>
<ellipse cx="323.30" cy="71.30" rx="1.90" ry="1.70" transform="rotate(0 323.30 71.30)" fill="#000" stroke="none" stroke-width="0.60"/>
</g>
<g clip-path="url(#c5)">
<path d="M365.00 63.50 C366.33 58.53 365.67 62.93 369.00 62.40 C372.33 61.87 371.00 61.77 375.00 61.90 C379.00 62.03 377.67 61.77 381.00 62.80 C384.33 63.83 383.00 63.10 385.00 65.00 C387.00 66.90 386.27 66.00 387.00 68.50 C387.73 71.00 387.53 70.00 387.20 72.50 C386.87 75.00 387.40 74.07 386.00 76.00 C384.60 77.93 385.67 77.20 383.00 78.30 C380.33 79.40 381.67 79.00 378.00 79.30 C374.33 79.60 375.33 79.53 372.00 79.20 C368.67 78.87 370.33 78.93 368.00 78.30 C365.67 77.67 366.00 82.23 365.00 77.30 C364.00 72.37 363.67 68.47 365.00 63.50 Z" fill="#000"/>
<path d="M365.00 63.50 C366.33 58.53 365.67 62.93 369.00 62.40 C372.33 61.87 371.00 61.77 375.00 61.90 C379.00 62.03 377.67 61.77 381.00 62.80 C384.33 63.83 383.00 63.10 385.00 65.00 C387.00 66.90 386.27 66.00 387.00 68.50 C387.73 71.00 387.53 70.00 387.20 72.50 C386.87 75.00 387.40 74.07 386.00 76.00 C384.60 77.93 385.67 77.20 383.00 78.30 C380.33 79.40 381.67 79.00 378.00 79.30 C374.33 79.60 375.33 79.53 372.00 79.20 C368.67 78.87 370.33 78.93 368.00 78.30 C365.67 77.67 366.00 82.23 365.00 77.30 C364.00 72.37 363.67 68.47 365.00 63.50 Z" fill="none" stroke="#fff" stroke-width="1.7"/>
<path d="M365.00 63.50 C366.33 58.53 365.67 62.93 369.00 62.40 C372.33 61.87 371.00 61.77 375.00 61.90 C379.00 62.03 377.67 61.77 381.00 62.80 C384.33 63.83 383.00 63.10 385.00 65.00 C387.00 66.90 386.27 66.00 387.00 68.50 C387.73 71.00 387.53 70.00 387.20 72.50 C386.87 75.00 387.40 74.07 386.00 76.00 C384.60 77.93 385.67 77.20 383.00 78.30 C380.33 79.40 381.67 79.00 378.00 79.30 C374.33 79.60 375.33 79.53 372.00 79.20 C368.67 78.87 370.33 78.93 368.00 78.30 C365.67 77.67 366.00 82.23 365.00 77.30 C364.00 72.37 363.67 68.47 365.00 63.50 Z" fill="none" stroke="#000" stroke-width="0.6"/>
<ellipse cx="376.80" cy="70.60" rx="7.40" ry="6.40" transform="rotate(0 376.80 70.60)" fill="none" stroke="#eee" stroke-width="0.60"/>
<ellipse cx="376.80" cy="70.60" rx="5.30" ry="4.60" transform="rotate(0 376.80 70.60)" fill="none" stroke="#eee" stroke-width="0.60"/>
<ellipse cx="376.80" cy="70.60" rx="3.30" ry="2.90" transform="rotate(0 376.80 70.60)" fill="none" stroke="#eee" stroke-width="0.60"/>
<ellipse cx="376.60" cy="70.50" rx="1.90" ry="2.00" transform="rotate(0 376.60 70.50)" fill="#000" stroke="none" stroke-width="0.60"/>
<path d="M388.30 73.00 C388.53 71.53 387.93 72.07 389.50 70.60 C391.07 69.13 390.50 69.93 393.00 68.60 C395.50 67.27 394.33 67.90 397.00 66.60 C399.67 65.30 398.33 65.70 401.00 64.70 C403.67 63.70 402.67 63.70 405.00 63.60 C407.33 63.50 406.57 63.10 408.00 64.40 C409.43 65.70 408.93 65.13 409.30 67.50 C409.67 69.87 409.60 69.07 409.10 71.50 C408.60 73.93 409.33 73.03 407.80 74.80 C406.27 76.57 407.10 75.90 404.50 76.80 C401.90 77.70 403.17 77.30 400.00 77.50 C396.83 77.70 398.00 77.77 395.00 77.40 C392.00 77.03 393.07 77.20 391.00 76.40 C388.93 75.60 389.70 76.13 388.80 75.00 C387.90 73.87 388.07 74.47 388.30 73.00 Z" fill="#000"/>
<path d="M388.30 73.00 C388.53 71.53 387.93 72.07 389.50 70.60 C391.07 69.13 390.50 69.93 393.00 68.60 C395.50 67.27 394.33 67.90 397.00 66.60 C399.67 65.30 398.33 65.70 401.00 64.70 C403.67 63.70 402.67 63.70 405.00 63.60 C407.33 63.50 406.57 63.10 408.00 64.40 C409.43 65.70 408.93 65.13 409.30 67.50 C409.67 69.87 409.60 69.07 409.10 71.50 C408.60 73.93 409.33 73.03 407.80 74.80 C406.27 76.57 407.10 75.90 404.50 76.80 C401.90 77.70 403.17 77.30 400.00 77.50 C396.83 77.70 398.00 77.77 395.00 77.40 C392.00 77.03 393.07 77.20 391.00 76.40 C388.93 75.60 389.70 76.13 388.80 75.00 C387.90 73.87 388.07 74.47 388.30 73.00 Z" fill="none" stroke="#fff" stroke-width="1.7"/>
<path d="M388.30 73.00 C388.53 71.53 387.93 72.07 389.50 70.60 C391.07 69.13 390.50 69.93 393.00 68.60 C395.50 67.27 394.33 67.90 397.00 66.60 C399.67 65.30 398.33 65.70 401.00 64.70 C403.67 63.70 402.67 63.70 405.00 63.60 C407.33 63.50 406.57 63.10 408.00 64.40 C409.43 65.70 408.93 65.13 409.30 67.50 C409.67 69.87 409.60 69.07 409.10 71.50 C408.60 73.93 409.33 73.03 407.80 74.80 C406.27 76.57 407.10 75.90 404.50 76.80 C401.90 77.70 403.17 77.30 400.00 77.50 C396.83 77.70 398.00 77.77 395.00 77.40 C392.00 77.03 393.07 77.20 391.00 76.40 C388.93 75.60 389.70 76.13 388.80 75.00 C387.90 73.87 388.07 74.47 388.30 73.00 Z" fill="none" stroke="#000" stroke-width="0.6"/>
<path d="M386 71.2 L389.5 72 L389.5 74.6 L386 74.2 Z" fill="#000"/>
<ellipse cx="399.60" cy="71.60" rx="6.80" ry="4.30" transform="rotate(-16 399.60 71.60)" fill="none" stroke="#e6e6e6" stroke-width="0.60"/>
<ellipse cx="399.60" cy="71.60" rx="4.60" ry="2.90" transform="rotate(-16 399.60 71.60)" fill="none" stroke="#e6e6e6" stroke-width="0.60"/>
<ellipse cx="399.60" cy="71.60" rx="2.50" ry="1.60" transform="rotate(-16 399.60 71.60)" fill="none" stroke="#e6e6e6" stroke-width="0.60"/>
<ellipse cx="399.40" cy="71.80" rx="1.00" ry="0.70" transform="rotate(-16 399.40 71.80)" fill="#ccc" stroke="none" stroke-width="0.60"/>
</g>
</g>
<line x1="288.50" y1="107.32" x2="289.50" y2="107.32" stroke="#999" stroke-width="0.50" stroke-linecap="butt"/>
<line x1="288.50" y1="103.99" x2="289.50" y2="103.99" stroke="#999" stroke-width="0.50" stroke-linecap="butt"/>
<line x1="288.50" y1="101.64" x2="289.50" y2="101.64" stroke="#999" stroke-width="0.50" stroke-linecap="butt"/>
<line x1="288.50" y1="99.81" x2="289.50" y2="99.81" stroke="#999" stroke-width="0.50" stroke-linecap="butt"/>
<line x1="288.50" y1="98.31" x2="289.50" y2="98.31" stroke="#999" stroke-width="0.50" stroke-linecap="butt"/>
<line x1="288.50" y1="97.05" x2="289.50" y2="97.05" stroke="#999" stroke-width="0.50" stroke-linecap="butt"/>
<line x1="288.50" y1="95.95" x2="289.50" y2="95.95" stroke="#999" stroke-width="0.50" stroke-linecap="butt"/>
<line x1="288.50" y1="94.99" x2="289.50" y2="94.99" stroke="#999" stroke-width="0.50" stroke-linecap="butt"/>
<line x1="288.50" y1="94.12" x2="290.30" y2="94.12" stroke="#999" stroke-width="0.50" stroke-linecap="butt"/>
<line x1="288.50" y1="88.44" x2="289.50" y2="88.44" stroke="#999" stroke-width="0.50" stroke-linecap="butt"/>
<line x1="288.50" y1="85.12" x2="289.50" y2="85.12" stroke="#999" stroke-width="0.50" stroke-linecap="butt"/>
<line x1="288.50" y1="82.76" x2="289.50" y2="82.76" stroke="#999" stroke-width="0.50" stroke-linecap="butt"/>
<line x1="288.50" y1="80.93" x2="289.50" y2="80.93" stroke="#999" stroke-width="0.50" stroke-linecap="butt"/>
<line x1="288.50" y1="79.44" x2="289.50" y2="79.44" stroke="#999" stroke-width="0.50" stroke-linecap="butt"/>
<line x1="288.50" y1="78.17" x2="289.50" y2="78.17" stroke="#999" stroke-width="0.50" stroke-linecap="butt"/>
<line x1="288.50" y1="77.08" x2="289.50" y2="77.08" stroke="#999" stroke-width="0.50" stroke-linecap="butt"/>
<line x1="288.50" y1="76.11" x2="289.50" y2="76.11" stroke="#999" stroke-width="0.50" stroke-linecap="butt"/>
<line x1="288.50" y1="75.25" x2="290.30" y2="75.25" stroke="#999" stroke-width="0.50" stroke-linecap="butt"/>
<line x1="288.50" y1="69.57" x2="289.50" y2="69.57" stroke="#999" stroke-width="0.50" stroke-linecap="butt"/>
<line x1="288.50" y1="66.24" x2="289.50" y2="66.24" stroke="#999" stroke-width="0.50" stroke-linecap="butt"/>
<line x1="288.50" y1="63.89" x2="289.50" y2="63.89" stroke="#999" stroke-width="0.50" stroke-linecap="butt"/>
<line x1="288.50" y1="62.06" x2="289.50" y2="62.06" stroke="#999" stroke-width="0.50" stroke-linecap="butt"/>
<line x1="288.50" y1="60.56" x2="289.50" y2="60.56" stroke="#999" stroke-width="0.50" stroke-linecap="butt"/>
<line x1="288.50" y1="59.30" x2="289.50" y2="59.30" stroke="#999" stroke-width="0.50" stroke-linecap="butt"/>
<line x1="288.50" y1="58.20" x2="289.50" y2="58.20" stroke="#999" stroke-width="0.50" stroke-linecap="butt"/>
<line x1="288.50" y1="57.24" x2="289.50" y2="57.24" stroke="#999" stroke-width="0.50" stroke-linecap="butt"/>
<line x1="288.50" y1="56.38" x2="290.30" y2="56.38" stroke="#999" stroke-width="0.50" stroke-linecap="butt"/>
<line x1="288.50" y1="50.69" x2="289.50" y2="50.69" stroke="#999" stroke-width="0.50" stroke-linecap="butt"/>
<line x1="288.50" y1="47.37" x2="289.50" y2="47.37" stroke="#999" stroke-width="0.50" stroke-linecap="butt"/>
<line x1="288.50" y1="45.01" x2="289.50" y2="45.01" stroke="#999" stroke-width="0.50" stroke-linecap="butt"/>
<line x1="288.50" y1="43.18" x2="289.50" y2="43.18" stroke="#999" stroke-width="0.50" stroke-linecap="butt"/>
<line x1="288.50" y1="41.69" x2="289.50" y2="41.69" stroke="#999" stroke-width="0.50" stroke-linecap="butt"/>
<line x1="288.50" y1="40.42" x2="289.50" y2="40.42" stroke="#999" stroke-width="0.50" stroke-linecap="butt"/>
<line x1="288.50" y1="39.33" x2="289.50" y2="39.33" stroke="#999" stroke-width="0.50" stroke-linecap="butt"/>
<line x1="288.50" y1="38.36" x2="289.50" y2="38.36" stroke="#999" stroke-width="0.50" stroke-linecap="butt"/>
<line x1="288.50" y1="37.50" x2="290.30" y2="37.50" stroke="#999" stroke-width="0.50" stroke-linecap="butt"/>
<line x1="296.68" y1="113.60" x2="296.68" y2="114.80" stroke="#777" stroke-width="0.50" stroke-linecap="butt"/>
<line x1="300.01" y1="113.60" x2="300.01" y2="114.80" stroke="#777" stroke-width="0.50" stroke-linecap="butt"/>
<line x1="302.36" y1="113.60" x2="302.36" y2="114.80" stroke="#777" stroke-width="0.50" stroke-linecap="butt"/>
<line x1="304.19" y1="113.60" x2="304.19" y2="114.80" stroke="#777" stroke-width="0.50" stroke-linecap="butt"/>
<line x1="305.69" y1="113.60" x2="305.69" y2="114.80" stroke="#777" stroke-width="0.50" stroke-linecap="butt"/>
<line x1="306.95" y1="113.60" x2="306.95" y2="114.80" stroke="#777" stroke-width="0.50" stroke-linecap="butt"/>
<line x1="308.05" y1="113.60" x2="308.05" y2="114.80" stroke="#777" stroke-width="0.50" stroke-linecap="butt"/>
<line x1="309.01" y1="113.60" x2="309.01" y2="114.80" stroke="#777" stroke-width="0.50" stroke-linecap="butt"/>
<line x1="309.88" y1="113.60" x2="309.88" y2="115.80" stroke="#777" stroke-width="0.50" stroke-linecap="butt"/>
<line x1="315.56" y1="113.60" x2="315.56" y2="114.80" stroke="#777" stroke-width="0.50" stroke-linecap="butt"/>
<line x1="318.88" y1="113.60" x2="318.88" y2="114.80" stroke="#777" stroke-width="0.50" stroke-linecap="butt"/>
<line x1="321.24" y1="113.60" x2="321.24" y2="114.80" stroke="#777" stroke-width="0.50" stroke-linecap="butt"/>
<line x1="323.07" y1="113.60" x2="323.07" y2="114.80" stroke="#777" stroke-width="0.50" stroke-linecap="butt"/>
<line x1="324.56" y1="113.60" x2="324.56" y2="114.80" stroke="#777" stroke-width="0.50" stroke-linecap="butt"/>
<line x1="325.83" y1="113.60" x2="325.83" y2="114.80" stroke="#777" stroke-width="0.50" stroke-linecap="butt"/>
<line x1="326.92" y1="113.60" x2="326.92" y2="114.80" stroke="#777" stroke-width="0.50" stroke-linecap="butt"/>
<line x1="327.89" y1="113.60" x2="327.89" y2="114.80" stroke="#777" stroke-width="0.50" stroke-linecap="butt"/>
<line x1="328.75" y1="113.60" x2="328.75" y2="115.80" stroke="#777" stroke-width="0.50" stroke-linecap="butt"/>
<line x1="334.43" y1="113.60" x2="334.43" y2="114.80" stroke="#777" stroke-width="0.50" stroke-linecap="butt"/>
<line x1="337.76" y1="113.60" x2="337.76" y2="114.80" stroke="#777" stroke-width="0.50" stroke-linecap="butt"/>
<line x1="340.11" y1="113.60" x2="340.11" y2="114.80" stroke="#777" stroke-width="0.50" stroke-linecap="butt"/>
<line x1="341.94" y1="113.60" x2="341.94" y2="114.80" stroke="#777" stroke-width="0.50" stroke-linecap="butt"/>
<line x1="343.44" y1="113.60" x2="343.44" y2="114.80" stroke="#777" stroke-width="0.50" stroke-linecap="butt"/>
<line x1="344.70" y1="113.60" x2="344.70" y2="114.80" stroke="#777" stroke-width="0.50" stroke-linecap="butt"/>
<line x1="345.80" y1="113.60" x2="345.80" y2="114.80" stroke="#777" stroke-width="0.50" stroke-linecap="butt"/>
<line x1="346.76" y1="113.60" x2="346.76" y2="114.80" stroke="#777" stroke-width="0.50" stroke-linecap="butt"/>
<line x1="347.62" y1="113.60" x2="347.62" y2="115.80" stroke="#777" stroke-width="0.50" stroke-linecap="butt"/>
<line x1="353.31" y1="113.60" x2="353.31" y2="114.80" stroke="#777" stroke-width="0.50" stroke-linecap="butt"/>
<line x1="356.63" y1="113.60" x2="356.63" y2="114.80" stroke="#777" stroke-width="0.50" stroke-linecap="butt"/>
<line x1="358.99" y1="113.60" x2="358.99" y2="114.80" stroke="#777" stroke-width="0.50" stroke-linecap="butt"/>
<line x1="360.82" y1="113.60" x2="360.82" y2="114.80" stroke="#777" stroke-width="0.50" stroke-linecap="butt"/>
<line x1="362.31" y1="113.60" x2="362.31" y2="114.80" stroke="#777" stroke-width="0.50" stroke-linecap="butt"/>
<line x1="363.58" y1="113.60" x2="363.58" y2="114.80" stroke="#777" stroke-width="0.50" stroke-linecap="butt"/>
<line x1="364.67" y1="113.60" x2="364.67" y2="114.80" stroke="#777" stroke-width="0.50" stroke-linecap="butt"/>
<line x1="365.64" y1="113.60" x2="365.64" y2="114.80" stroke="#777" stroke-width="0.50" stroke-linecap="butt"/>
<line x1="366.50" y1="113.60" x2="366.50" y2="115.80" stroke="#777" stroke-width="0.50" stroke-linecap="butt"/>
<line x1="372.23" y1="113.60" x2="372.23" y2="114.80" stroke="#777" stroke-width="0.50" stroke-linecap="butt"/>
<line x1="375.58" y1="113.60" x2="375.58" y2="114.80" stroke="#777" stroke-width="0.50" stroke-linecap="butt"/>
<line x1="377.95" y1="113.60" x2="377.95" y2="114.80" stroke="#777" stroke-width="0.50" stroke-linecap="butt"/>
<line x1="379.80" y1="113.60" x2="379.80" y2="114.80" stroke="#777" stroke-width="0.50" stroke-linecap="butt"/>
<line x1="381.30" y1="113.60" x2="381.30" y2="114.80" stroke="#777" stroke-width="0.50" stroke-linecap="butt"/>
<line x1="382.58" y1="113.60" x2="382.58" y2="114.80" stroke="#777" stroke-width="0.50" stroke-linecap="butt"/>
<line x1="383.68" y1="113.60" x2="383.68" y2="114.80" stroke="#777" stroke-width="0.50" stroke-linecap="butt"/>
<line x1="384.65" y1="113.60" x2="384.65" y2="114.80" stroke="#777" stroke-width="0.50" stroke-linecap="butt"/>
<line x1="385.52" y1="113.60" x2="385.52" y2="115.80" stroke="#777" stroke-width="0.50" stroke-linecap="butt"/>
<line x1="391.25" y1="113.60" x2="391.25" y2="114.80" stroke="#777" stroke-width="0.50" stroke-linecap="butt"/>
<line x1="394.60" y1="113.60" x2="394.60" y2="114.80" stroke="#777" stroke-width="0.50" stroke-linecap="butt"/>
<line x1="396.98" y1="113.60" x2="396.98" y2="114.80" stroke="#777" stroke-width="0.50" stroke-linecap="butt"/>
<line x1="398.82" y1="113.60" x2="398.82" y2="114.80" stroke="#777" stroke-width="0.50" stroke-linecap="butt"/>
<line x1="400.33" y1="113.60" x2="400.33" y2="114.80" stroke="#777" stroke-width="0.50" stroke-linecap="butt"/>
<line x1="401.60" y1="113.60" x2="401.60" y2="114.80" stroke="#777" stroke-width="0.50" stroke-linecap="butt"/>
<line x1="402.71" y1="113.60" x2="402.71" y2="114.80" stroke="#777" stroke-width="0.50" stroke-linecap="butt"/>
<line x1="403.68" y1="113.60" x2="403.68" y2="114.80" stroke="#777" stroke-width="0.50" stroke-linecap="butt"/>
<line x1="404.55" y1="113.60" x2="404.55" y2="115.80" stroke="#777" stroke-width="0.50" stroke-linecap="butt"/>
<line x1="410.28" y1="113.60" x2="410.28" y2="114.80" stroke="#777" stroke-width="0.50" stroke-linecap="butt"/>
<line x1="413.63" y1="113.60" x2="413.63" y2="114.80" stroke="#777" stroke-width="0.50" stroke-linecap="butt"/>
<line x1="416.00" y1="113.60" x2="416.00" y2="114.80" stroke="#777" stroke-width="0.50" stroke-linecap="butt"/>
<line x1="417.85" y1="113.60" x2="417.85" y2="114.80" stroke="#777" stroke-width="0.50" stroke-linecap="butt"/>
<line x1="419.35" y1="113.60" x2="419.35" y2="114.80" stroke="#777" stroke-width="0.50" stroke-linecap="butt"/>
<line x1="420.63" y1="113.60" x2="420.63" y2="114.80" stroke="#777" stroke-width="0.50" stroke-linecap="butt"/>
<line x1="421.73" y1="113.60" x2="421.73" y2="114.80" stroke="#777" stroke-width="0.50" stroke-linecap="butt"/>
<line x1="422.70" y1="113.60" x2="422.70" y2="114.80" stroke="#777" stroke-width="0.50" stroke-linecap="butt"/>
<line x1="423.58" y1="113.60" x2="423.58" y2="115.80" stroke="#777" stroke-width="0.50" stroke-linecap="butt"/>
<line x1="429.30" y1="113.60" x2="429.30" y2="114.80" stroke="#777" stroke-width="0.50" stroke-linecap="butt"/>
<line x1="432.65" y1="113.60" x2="432.65" y2="114.80" stroke="#777" stroke-width="0.50" stroke-linecap="butt"/>
<line x1="435.03" y1="113.60" x2="435.03" y2="114.80" stroke="#777" stroke-width="0.50" stroke-linecap="butt"/>
<line x1="436.87" y1="113.60" x2="436.87" y2="114.80" stroke="#777" stroke-width="0.50" stroke-linecap="butt"/>
<line x1="438.38" y1="113.60" x2="438.38" y2="114.80" stroke="#777" stroke-width="0.50" stroke-linecap="butt"/>
<line x1="439.65" y1="113.60" x2="439.65" y2="114.80" stroke="#777" stroke-width="0.50" stroke-linecap="butt"/>
<line x1="440.76" y1="113.60" x2="440.76" y2="114.80" stroke="#777" stroke-width="0.50" stroke-linecap="butt"/>
<line x1="441.73" y1="113.60" x2="441.73" y2="114.80" stroke="#777" stroke-width="0.50" stroke-linecap="butt"/>
<line x1="442.60" y1="113.60" x2="442.60" y2="115.80" stroke="#777" stroke-width="0.50" stroke-linecap="butt"/>
<line x1="314.50" y1="54.50" x2="314.50" y2="83.50" stroke="#4a4a4a" stroke-width="1.00" stroke-linecap="butt"/>
<line x1="390.50" y1="54.50" x2="390.50" y2="83.50" stroke="#4a4a4a" stroke-width="1.00" stroke-linecap="butt"/>
<rect x="290.50" y="37.50" width="152.00" height="76.00" fill="none" stroke="#8c8c8c" stroke-width="1.00"/>
<line x1="290.50" y1="37.50" x2="290.50" y2="113.50" stroke="#555" stroke-width="1.00" stroke-linecap="butt"/>
<line x1="442.50" y1="37.50" x2="442.50" y2="113.50" stroke="#6a6a6a" stroke-width="1.00" stroke-linecap="butt"/>
<line x1="366.50" y1="37.50" x2="366.50" y2="113.50" stroke="#444" stroke-width="1.00" stroke-linecap="butt"/>
<text x="293.00" y="49.30" font-size="13.50" text-anchor="start">46%</text>
<text x="368.00" y="49.30" font-size="13.50" text-anchor="start">67%</text>
<text x="335.40" y="74.90" font-size="13.50" text-anchor="start">53%</text>
<text x="413.20" y="74.90" font-size="13.50" text-anchor="start">33%</text>
<text x="284.40" y="80.50" font-size="13.50" text-anchor="middle" transform="rotate(-90 284.40 80.50)">CD4</text>
<text x="291.20" y="129.30" font-size="13.70" text-anchor="start">FoxP3</text>
<line x1="334.50" y1="124.80" x2="421.90" y2="124.80" stroke="#000" stroke-width="1.20" stroke-linecap="butt"/>
<path d="M426.00 124.80 L420.40 122.70 L422.00 124.80 L420.40 126.90 Z" fill="#000"/>
<text x="603.80" y="386.00" font-size="13.40" text-anchor="middle">Untreated:</text>
<text x="606.50" y="402.00" font-size="13.40" text-anchor="middle">Time Match</text>
<text x="680.60" y="391.80" font-size="13.50" text-anchor="middle">PLX4720</text>
<text x="755.80" y="386.00" font-size="13.40" text-anchor="middle">Untreated:</text>
<text x="758.60" y="402.00" font-size="13.40" text-anchor="middle">Size Match</text>
<rect x="601.50" y="430.50" width="26.00" height="24.00" fill="none" stroke="#9a9a9a" stroke-width="1.00"/>
<rect x="676.50" y="430.50" width="26.00" height="24.00" fill="none" stroke="#9a9a9a" stroke-width="1.00"/>
<rect x="752.50" y="430.50" width="26.00" height="24.00" fill="none" stroke="#9a9a9a" stroke-width="1.00"/>
<g filter="url(#soft)">
<clipPath id="d1"><rect x="567.5" y="408" width="75" height="75"/></clipPath>
<clipPath id="d2"><rect x="643.5" y="408" width="74.5" height="75"/></clipPath>
<clipPath id="d3"><rect x="719" y="408" width="75" height="75"/></clipPath>
<g clip-path="url(#d1)">
<path d="M563.00 436.60 C564.67 434.03 565.00 437.03 568.00 436.90 C571.00 436.77 569.33 436.90 572.00 436.20 C574.67 435.50 573.00 435.80 576.00 434.80 C579.00 433.80 577.33 434.13 581.00 433.20 C584.67 432.27 582.67 432.53 587.00 432.00 C591.33 431.47 589.67 431.47 594.00 431.60 C598.33 431.73 596.67 431.53 600.00 432.40 C603.33 433.27 601.67 432.73 604.00 434.20 C606.33 435.67 605.07 435.07 607.00 436.80 C608.93 438.53 608.33 437.90 609.80 439.40 C611.27 440.90 611.33 439.90 611.40 441.30 C611.47 442.70 611.47 441.97 610.00 443.60 C608.53 445.23 609.33 444.53 607.00 446.20 C604.67 447.87 606.33 447.27 603.00 448.60 C599.67 449.93 601.33 449.60 597.00 450.20 C592.67 450.80 594.33 450.67 590.00 450.40 C585.67 450.13 588.00 450.33 584.00 449.40 C580.00 448.47 581.67 448.80 578.00 447.60 C574.33 446.40 576.33 446.73 573.00 445.80 C569.67 444.87 571.33 445.20 568.00 444.80 C564.67 444.40 564.67 447.33 563.00 444.60 C561.33 441.87 561.33 439.17 563.00 436.60 Z" fill="#000"/>
<path d="M563.00 436.60 C564.67 434.03 565.00 437.03 568.00 436.90 C571.00 436.77 569.33 436.90 572.00 436.20 C574.67 435.50 573.00 435.80 576.00 434.80 C579.00 433.80 577.33 434.13 581.00 433.20 C584.67 432.27 582.67 432.53 587.00 432.00 C591.33 431.47 589.67 431.47 594.00 431.60 C598.33 431.73 596.67 431.53 600.00 432.40 C603.33 433.27 601.67 432.73 604.00 434.20 C606.33 435.67 605.07 435.07 607.00 436.80 C608.93 438.53 608.33 437.90 609.80 439.40 C611.27 440.90 611.33 439.90 611.40 441.30 C611.47 442.70 611.47 441.97 610.00 443.60 C608.53 445.23 609.33 444.53 607.00 446.20 C604.67 447.87 606.33 447.27 603.00 448.60 C599.67 449.93 601.33 449.60 597.00 450.20 C592.67 450.80 594.33 450.67 590.00 450.40 C585.67 450.13 588.00 450.33 584.00 449.40 C580.00 448.47 581.67 448.80 578.00 447.60 C574.33 446.40 576.33 446.73 573.00 445.80 C569.67 444.87 571.33 445.20 568.00 444.80 C564.67 444.40 564.67 447.33 563.00 444.60 C561.33 441.87 561.33 439.17 563.00 436.60 Z" fill="none" stroke="#fff" stroke-width="1.7"/>
<path d="M563.00 436.60 C564.67 434.03 565.00 437.03 568.00 436.90 C571.00 436.77 569.33 436.90 572.00 436.20 C574.67 435.50 573.00 435.80 576.00 434.80 C579.00 433.80 577.33 434.13 581.00 433.20 C584.67 432.27 582.67 432.53 587.00 432.00 C591.33 431.47 589.67 431.47 594.00 431.60 C598.33 431.73 596.67 431.53 600.00 432.40 C603.33 433.27 601.67 432.73 604.00 434.20 C606.33 435.67 605.07 435.07 607.00 436.80 C608.93 438.53 608.33 437.90 609.80 439.40 C611.27 440.90 611.33 439.90 611.40 441.30 C611.47 442.70 611.47 441.97 610.00 443.60 C608.53 445.23 609.33 444.53 607.00 446.20 C604.67 447.87 606.33 447.27 603.00 448.60 C599.67 449.93 601.33 449.60 597.00 450.20 C592.67 450.80 594.33 450.67 590.00 450.40 C585.67 450.13 588.00 450.33 584.00 449.40 C580.00 448.47 581.67 448.80 578.00 447.60 C574.33 446.40 576.33 446.73 573.00 445.80 C569.67 444.87 571.33 445.20 568.00 444.80 C564.67 444.40 564.67 447.33 563.00 444.60 C561.33 441.87 561.33 439.17 563.00 436.60 Z" fill="none" stroke="#000" stroke-width="0.6"/>
<path d="M567 438.6 C570 438.8 573 438.2 576 437.2 L576.5 444.4 C573 443.6 570 443 567 442.8 Z" fill="#b4b4b4"/>
<ellipse cx="593.30" cy="440.90" rx="11.60" ry="5.80" transform="rotate(-3 593.30 440.90)" fill="none" stroke="#eee" stroke-width="0.60"/>
<ellipse cx="593.30" cy="440.90" rx="7.80" ry="3.90" transform="rotate(-3 593.30 440.90)" fill="none" stroke="#eee" stroke-width="0.60"/>
<ellipse cx="593.30" cy="440.90" rx="4.20" ry="2.10" transform="rotate(-3 593.30 440.90)" fill="none" stroke="#eee" stroke-width="0.60"/>
</g>
<g clip-path="url(#d2)">
<path d="M645.60 441.60 C645.60 439.87 645.70 440.67 647.50 439.20 C649.30 437.73 648.17 438.53 651.00 437.20 C653.83 435.87 652.33 436.40 656.00 435.20 C659.67 434.00 657.67 434.40 662.00 433.60 C666.33 432.80 664.33 432.93 669.00 432.80 C673.67 432.67 671.67 432.60 676.00 433.20 C680.33 433.80 678.33 433.40 682.00 434.60 C685.67 435.80 684.17 435.27 687.00 436.80 C689.83 438.33 688.57 437.60 690.50 439.20 C692.43 440.80 692.17 440.13 692.80 441.60 C693.43 443.07 693.50 442.07 692.40 443.60 C691.30 445.13 691.97 444.47 689.50 446.20 C687.03 447.93 688.50 447.27 685.00 448.80 C681.50 450.33 683.33 449.87 679.00 450.80 C674.67 451.73 676.67 451.47 672.00 451.60 C667.33 451.73 669.67 451.87 665.00 451.20 C660.33 450.53 662.33 450.93 658.00 449.60 C653.67 448.27 655.50 448.93 652.00 447.20 C648.50 445.47 649.63 446.27 647.50 444.40 C645.37 442.53 645.60 443.33 645.60 441.60 Z" fill="#000"/>
<path d="M645.60 441.60 C645.60 439.87 645.70 440.67 647.50 439.20 C649.30 437.73 648.17 438.53 651.00 437.20 C653.83 435.87 652.33 436.40 656.00 435.20 C659.67 434.00 657.67 434.40 662.00 433.60 C666.33 432.80 664.33 432.93 669.00 432.80 C673.67 432.67 671.67 432.60 676.00 433.20 C680.33 433.80 678.33 433.40 682.00 434.60 C685.67 435.80 684.17 435.27 687.00 436.80 C689.83 438.33 688.57 437.60 690.50 439.20 C692.43 440.80 692.17 440.13 692.80 441.60 C693.43 443.07 693.50 442.07 692.40 443.60 C691.30 445.13 691.97 444.47 689.50 446.20 C687.03 447.93 688.50 447.27 685.00 448.80 C681.50 450.33 683.33 449.87 679.00 450.80 C674.67 451.73 676.67 451.47 672.00 451.60 C667.33 451.73 669.67 451.87 665.00 451.20 C660.33 450.53 662.33 450.93 658.00 449.60 C653.67 448.27 655.50 448.93 652.00 447.20 C648.50 445.47 649.63 446.27 647.50 444.40 C645.37 442.53 645.60 443.33 645.60 441.60 Z" fill="none" stroke="#fff" stroke-width="1.7"/>
<path d="M645.60 441.60 C645.60 439.87 645.70 440.67 647.50 439.20 C649.30 437.73 648.17 438.53 651.00 437.20 C653.83 435.87 652.33 436.40 656.00 435.20 C659.67 434.00 657.67 434.40 662.00 433.60 C666.33 432.80 664.33 432.93 669.00 432.80 C673.67 432.67 671.67 432.60 676.00 433.20 C680.33 433.80 678.33 433.40 682.00 434.60 C685.67 435.80 684.17 435.27 687.00 436.80 C689.83 438.33 688.57 437.60 690.50 439.20 C692.43 440.80 692.17 440.13 692.80 441.60 C693.43 443.07 693.50 442.07 692.40 443.60 C691.30 445.13 691.97 444.47 689.50 446.20 C687.03 447.93 688.50 447.27 685.00 448.80 C681.50 450.33 683.33 449.87 679.00 450.80 C674.67 451.73 676.67 451.47 672.00 451.60 C667.33 451.73 669.67 451.87 665.00 451.20 C660.33 450.53 662.33 450.93 658.00 449.60 C653.67 448.27 655.50 448.93 652.00 447.20 C648.50 445.47 649.63 446.27 647.50 444.40 C645.37 442.53 645.60 443.33 645.60 441.60 Z" fill="none" stroke="#000" stroke-width="0.6"/>
<ellipse cx="667.60" cy="442.10" rx="15.50" ry="6.20" transform="rotate(3 667.60 442.10)" fill="none" stroke="#eee" stroke-width="0.60"/>
<ellipse cx="667.60" cy="442.10" rx="11.00" ry="4.40" transform="rotate(3 667.60 442.10)" fill="none" stroke="#eee" stroke-width="0.60"/>
<ellipse cx="667.60" cy="442.10" rx="6.80" ry="2.70" transform="rotate(3 667.60 442.10)" fill="none" stroke="#eee" stroke-width="0.60"/>
<ellipse cx="667.60" cy="442.10" rx="3.00" ry="1.30" transform="rotate(3 667.60 442.10)" fill="none" stroke="#eee" stroke-width="0.60"/>
</g>
<g clip-path="url(#d3)">
<path d="M715.00 434.20 C717.33 429.57 717.67 434.53 722.00 434.40 C726.33 434.27 724.00 434.30 728.00 433.80 C732.00 433.30 729.67 433.40 734.00 432.90 C738.33 432.40 736.33 432.40 741.00 432.30 C745.67 432.20 744.00 432.03 748.00 432.60 C752.00 433.17 750.13 432.67 753.00 434.00 C755.87 435.33 754.73 434.60 756.60 436.60 C758.47 438.60 757.87 437.73 758.60 440.00 C759.33 442.27 759.33 441.07 758.80 443.40 C758.27 445.73 758.77 444.93 757.00 447.00 C755.23 449.07 756.50 448.30 753.50 449.60 C750.50 450.90 752.17 450.53 748.00 450.90 C743.83 451.27 745.67 451.03 741.00 450.70 C736.33 450.37 738.67 450.47 734.00 449.90 C729.33 449.33 731.33 449.50 727.00 449.00 C722.67 448.50 725.00 448.63 721.00 448.40 C717.00 448.17 717.00 453.03 715.00 448.30 C713.00 443.57 712.67 438.83 715.00 434.20 Z" fill="#000"/>
<path d="M715.00 434.20 C717.33 429.57 717.67 434.53 722.00 434.40 C726.33 434.27 724.00 434.30 728.00 433.80 C732.00 433.30 729.67 433.40 734.00 432.90 C738.33 432.40 736.33 432.40 741.00 432.30 C745.67 432.20 744.00 432.03 748.00 432.60 C752.00 433.17 750.13 432.67 753.00 434.00 C755.87 435.33 754.73 434.60 756.60 436.60 C758.47 438.60 757.87 437.73 758.60 440.00 C759.33 442.27 759.33 441.07 758.80 443.40 C758.27 445.73 758.77 444.93 757.00 447.00 C755.23 449.07 756.50 448.30 753.50 449.60 C750.50 450.90 752.17 450.53 748.00 450.90 C743.83 451.27 745.67 451.03 741.00 450.70 C736.33 450.37 738.67 450.47 734.00 449.90 C729.33 449.33 731.33 449.50 727.00 449.00 C722.67 448.50 725.00 448.63 721.00 448.40 C717.00 448.17 717.00 453.03 715.00 448.30 C713.00 443.57 712.67 438.83 715.00 434.20 Z" fill="none" stroke="#fff" stroke-width="1.7"/>
<path d="M715.00 434.20 C717.33 429.57 717.67 434.53 722.00 434.40 C726.33 434.27 724.00 434.30 728.00 433.80 C732.00 433.30 729.67 433.40 734.00 432.90 C738.33 432.40 736.33 432.40 741.00 432.30 C745.67 432.20 744.00 432.03 748.00 432.60 C752.00 433.17 750.13 432.67 753.00 434.00 C755.87 435.33 754.73 434.60 756.60 436.60 C758.47 438.60 757.87 437.73 758.60 440.00 C759.33 442.27 759.33 441.07 758.80 443.40 C758.27 445.73 758.77 444.93 757.00 447.00 C755.23 449.07 756.50 448.30 753.50 449.60 C750.50 450.90 752.17 450.53 748.00 450.90 C743.83 451.27 745.67 451.03 741.00 450.70 C736.33 450.37 738.67 450.47 734.00 449.90 C729.33 449.33 731.33 449.50 727.00 449.00 C722.67 448.50 725.00 448.63 721.00 448.40 C717.00 448.17 717.00 453.03 715.00 448.30 C713.00 443.57 712.67 438.83 715.00 434.20 Z" fill="none" stroke="#000" stroke-width="0.6"/>
<ellipse cx="740.50" cy="441.60" rx="16.00" ry="5.60" transform="rotate(0 740.50 441.60)" fill="none" stroke="#eee" stroke-width="0.60"/>
<ellipse cx="740.50" cy="441.60" rx="11.00" ry="3.80" transform="rotate(0 740.50 441.60)" fill="none" stroke="#eee" stroke-width="0.60"/>
<ellipse cx="740.50" cy="441.60" rx="6.00" ry="2.10" transform="rotate(0 740.50 441.60)" fill="none" stroke="#eee" stroke-width="0.60"/>
<path d="M719 437.4 C724 438.4 728 440 731 441.5 C728 443 724 444.6 719 445.6 Z" fill="#000"/>
<path d="M719 439 C723 439.8 726 440.6 728 441.5 C726 442.4 723 443.2 719 444" fill="none" stroke="#ddd" stroke-width="0.5"/>
</g>
</g>
<line x1="565.00" y1="477.63" x2="566.00" y2="477.63" stroke="#999" stroke-width="0.50" stroke-linecap="butt"/>
<line x1="565.00" y1="474.32" x2="566.00" y2="474.32" stroke="#999" stroke-width="0.50" stroke-linecap="butt"/>
<line x1="565.00" y1="471.97" x2="566.00" y2="471.97" stroke="#999" stroke-width="0.50" stroke-linecap="butt"/>
<line x1="565.00" y1="470.14" x2="566.00" y2="470.14" stroke="#999" stroke-width="0.50" stroke-linecap="butt"/>
<line x1="565.00" y1="468.65" x2="566.00" y2="468.65" stroke="#999" stroke-width="0.50" stroke-linecap="butt"/>
<line x1="565.00" y1="467.39" x2="566.00" y2="467.39" stroke="#999" stroke-width="0.50" stroke-linecap="butt"/>
<line x1="565.00" y1="466.30" x2="566.00" y2="466.30" stroke="#999" stroke-width="0.50" stroke-linecap="butt"/>
<line x1="565.00" y1="465.34" x2="566.00" y2="465.34" stroke="#999" stroke-width="0.50" stroke-linecap="butt"/>
<line x1="565.00" y1="464.48" x2="566.80" y2="464.48" stroke="#999" stroke-width="0.50" stroke-linecap="butt"/>
<line x1="565.00" y1="458.81" x2="566.00" y2="458.81" stroke="#999" stroke-width="0.50" stroke-linecap="butt"/>
<line x1="565.00" y1="455.49" x2="566.00" y2="455.49" stroke="#999" stroke-width="0.50" stroke-linecap="butt"/>
<line x1="565.00" y1="453.14" x2="566.00" y2="453.14" stroke="#999" stroke-width="0.50" stroke-linecap="butt"/>
<line x1="565.00" y1="451.32" x2="566.00" y2="451.32" stroke="#999" stroke-width="0.50" stroke-linecap="butt"/>
<line x1="565.00" y1="449.83" x2="566.00" y2="449.83" stroke="#999" stroke-width="0.50" stroke-linecap="butt"/>
<line x1="565.00" y1="448.57" x2="566.00" y2="448.57" stroke="#999" stroke-width="0.50" stroke-linecap="butt"/>
<line x1="565.00" y1="447.47" x2="566.00" y2="447.47" stroke="#999" stroke-width="0.50" stroke-linecap="butt"/>
<line x1="565.00" y1="446.51" x2="566.00" y2="446.51" stroke="#999" stroke-width="0.50" stroke-linecap="butt"/>
<line x1="565.00" y1="445.65" x2="566.80" y2="445.65" stroke="#999" stroke-width="0.50" stroke-linecap="butt"/>
<line x1="565.00" y1="439.98" x2="566.00" y2="439.98" stroke="#999" stroke-width="0.50" stroke-linecap="butt"/>
<line x1="565.00" y1="436.67" x2="566.00" y2="436.67" stroke="#999" stroke-width="0.50" stroke-linecap="butt"/>
<line x1="565.00" y1="434.32" x2="566.00" y2="434.32" stroke="#999" stroke-width="0.50" stroke-linecap="butt"/>
<line x1="565.00" y1="432.49" x2="566.00" y2="432.49" stroke="#999" stroke-width="0.50" stroke-linecap="butt"/>
<line x1="565.00" y1="431.00" x2="566.00" y2="431.00" stroke="#999" stroke-width="0.50" stroke-linecap="butt"/>
<line x1="565.00" y1="429.74" x2="566.00" y2="429.74" stroke="#999" stroke-width="0.50" stroke-linecap="butt"/>
<line x1="565.00" y1="428.65" x2="566.00" y2="428.65" stroke="#999" stroke-width="0.50" stroke-linecap="butt"/>
<line x1="565.00" y1="427.69" x2="566.00" y2="427.69" stroke="#999" stroke-width="0.50" stroke-linecap="butt"/>
<line x1="565.00" y1="426.82" x2="566.80" y2="426.82" stroke="#999" stroke-width="0.50" stroke-linecap="butt"/>
<line x1="565.00" y1="421.16" x2="566.00" y2="421.16" stroke="#999" stroke-width="0.50" stroke-linecap="butt"/>
<line x1="565.00" y1="417.84" x2="566.00" y2="417.84" stroke="#999" stroke-width="0.50" stroke-linecap="butt"/>
<line x1="565.00" y1="415.49" x2="566.00" y2="415.49" stroke="#999" stroke-width="0.50" stroke-linecap="butt"/>
<line x1="565.00" y1="413.67" x2="566.00" y2="413.67" stroke="#999" stroke-width="0.50" stroke-linecap="butt"/>
<line x1="565.00" y1="412.18" x2="566.00" y2="412.18" stroke="#999" stroke-width="0.50" stroke-linecap="butt"/>
<line x1="565.00" y1="410.92" x2="566.00" y2="410.92" stroke="#999" stroke-width="0.50" stroke-linecap="butt"/>
<line x1="565.00" y1="409.82" x2="566.00" y2="409.82" stroke="#999" stroke-width="0.50" stroke-linecap="butt"/>
<line x1="565.00" y1="408.86" x2="566.00" y2="408.86" stroke="#999" stroke-width="0.50" stroke-linecap="butt"/>
<line x1="565.00" y1="408.00" x2="566.80" y2="408.00" stroke="#999" stroke-width="0.50" stroke-linecap="butt"/>
<line x1="572.92" y1="483.80" x2="572.92" y2="485.00" stroke="#777" stroke-width="0.50" stroke-linecap="butt"/>
<line x1="576.27" y1="483.80" x2="576.27" y2="485.00" stroke="#777" stroke-width="0.50" stroke-linecap="butt"/>
<line x1="578.64" y1="483.80" x2="578.64" y2="485.00" stroke="#777" stroke-width="0.50" stroke-linecap="butt"/>
<line x1="580.48" y1="483.80" x2="580.48" y2="485.00" stroke="#777" stroke-width="0.50" stroke-linecap="butt"/>
<line x1="581.98" y1="483.80" x2="581.98" y2="485.00" stroke="#777" stroke-width="0.50" stroke-linecap="butt"/>
<line x1="583.26" y1="483.80" x2="583.26" y2="485.00" stroke="#777" stroke-width="0.50" stroke-linecap="butt"/>
<line x1="584.36" y1="483.80" x2="584.36" y2="485.00" stroke="#777" stroke-width="0.50" stroke-linecap="butt"/>
<line x1="585.33" y1="483.80" x2="585.33" y2="485.00" stroke="#777" stroke-width="0.50" stroke-linecap="butt"/>
<line x1="586.20" y1="483.80" x2="586.20" y2="486.00" stroke="#777" stroke-width="0.50" stroke-linecap="butt"/>
<line x1="591.92" y1="483.80" x2="591.92" y2="485.00" stroke="#777" stroke-width="0.50" stroke-linecap="butt"/>
<line x1="595.27" y1="483.80" x2="595.27" y2="485.00" stroke="#777" stroke-width="0.50" stroke-linecap="butt"/>
<line x1="597.64" y1="483.80" x2="597.64" y2="485.00" stroke="#777" stroke-width="0.50" stroke-linecap="butt"/>
<line x1="599.48" y1="483.80" x2="599.48" y2="485.00" stroke="#777" stroke-width="0.50" stroke-linecap="butt"/>
<line x1="600.98" y1="483.80" x2="600.98" y2="485.00" stroke="#777" stroke-width="0.50" stroke-linecap="butt"/>
<line x1="602.26" y1="483.80" x2="602.26" y2="485.00" stroke="#777" stroke-width="0.50" stroke-linecap="butt"/>
<line x1="603.36" y1="483.80" x2="603.36" y2="485.00" stroke="#777" stroke-width="0.50" stroke-linecap="butt"/>
<line x1="604.33" y1="483.80" x2="604.33" y2="485.00" stroke="#777" stroke-width="0.50" stroke-linecap="butt"/>
<line x1="605.20" y1="483.80" x2="605.20" y2="486.00" stroke="#777" stroke-width="0.50" stroke-linecap="butt"/>
<line x1="610.92" y1="483.80" x2="610.92" y2="485.00" stroke="#777" stroke-width="0.50" stroke-linecap="butt"/>
<line x1="614.27" y1="483.80" x2="614.27" y2="485.00" stroke="#777" stroke-width="0.50" stroke-linecap="butt"/>
<line x1="616.64" y1="483.80" x2="616.64" y2="485.00" stroke="#777" stroke-width="0.50" stroke-linecap="butt"/>
<line x1="618.48" y1="483.80" x2="618.48" y2="485.00" stroke="#777" stroke-width="0.50" stroke-linecap="butt"/>
<line x1="619.98" y1="483.80" x2="619.98" y2="485.00" stroke="#777" stroke-width="0.50" stroke-linecap="butt"/>
<line x1="621.26" y1="483.80" x2="621.26" y2="485.00" stroke="#777" stroke-width="0.50" stroke-linecap="butt"/>
<line x1="622.36" y1="483.80" x2="622.36" y2="485.00" stroke="#777" stroke-width="0.50" stroke-linecap="butt"/>
<line x1="623.33" y1="483.80" x2="623.33" y2="485.00" stroke="#777" stroke-width="0.50" stroke-linecap="butt"/>
<line x1="624.20" y1="483.80" x2="624.20" y2="486.00" stroke="#777" stroke-width="0.50" stroke-linecap="butt"/>
<line x1="629.92" y1="483.80" x2="629.92" y2="485.00" stroke="#777" stroke-width="0.50" stroke-linecap="butt"/>
<line x1="633.27" y1="483.80" x2="633.27" y2="485.00" stroke="#777" stroke-width="0.50" stroke-linecap="butt"/>
<line x1="635.64" y1="483.80" x2="635.64" y2="485.00" stroke="#777" stroke-width="0.50" stroke-linecap="butt"/>
<line x1="637.48" y1="483.80" x2="637.48" y2="485.00" stroke="#777" stroke-width="0.50" stroke-linecap="butt"/>
<line x1="638.98" y1="483.80" x2="638.98" y2="485.00" stroke="#777" stroke-width="0.50" stroke-linecap="butt"/>
<line x1="640.26" y1="483.80" x2="640.26" y2="485.00" stroke="#777" stroke-width="0.50" stroke-linecap="butt"/>
<line x1="641.36" y1="483.80" x2="641.36" y2="485.00" stroke="#777" stroke-width="0.50" stroke-linecap="butt"/>
<line x1="642.33" y1="483.80" x2="642.33" y2="485.00" stroke="#777" stroke-width="0.50" stroke-linecap="butt"/>
<line x1="643.20" y1="483.80" x2="643.20" y2="486.00" stroke="#777" stroke-width="0.50" stroke-linecap="butt"/>
<line x1="648.87" y1="483.80" x2="648.87" y2="485.00" stroke="#777" stroke-width="0.50" stroke-linecap="butt"/>
<line x1="652.19" y1="483.80" x2="652.19" y2="485.00" stroke="#777" stroke-width="0.50" stroke-linecap="butt"/>
<line x1="654.55" y1="483.80" x2="654.55" y2="485.00" stroke="#777" stroke-width="0.50" stroke-linecap="butt"/>
<line x1="656.38" y1="483.80" x2="656.38" y2="485.00" stroke="#777" stroke-width="0.50" stroke-linecap="butt"/>
<line x1="657.87" y1="483.80" x2="657.87" y2="485.00" stroke="#777" stroke-width="0.50" stroke-linecap="butt"/>
<line x1="659.13" y1="483.80" x2="659.13" y2="485.00" stroke="#777" stroke-width="0.50" stroke-linecap="butt"/>
<line x1="660.22" y1="483.80" x2="660.22" y2="485.00" stroke="#777" stroke-width="0.50" stroke-linecap="butt"/>
<line x1="661.19" y1="483.80" x2="661.19" y2="485.00" stroke="#777" stroke-width="0.50" stroke-linecap="butt"/>
<line x1="662.05" y1="483.80" x2="662.05" y2="486.00" stroke="#777" stroke-width="0.50" stroke-linecap="butt"/>
<line x1="667.72" y1="483.80" x2="667.72" y2="485.00" stroke="#777" stroke-width="0.50" stroke-linecap="butt"/>
<line x1="671.04" y1="483.80" x2="671.04" y2="485.00" stroke="#777" stroke-width="0.50" stroke-linecap="butt"/>
<line x1="673.40" y1="483.80" x2="673.40" y2="485.00" stroke="#777" stroke-width="0.50" stroke-linecap="butt"/>
<line x1="675.23" y1="483.80" x2="675.23" y2="485.00" stroke="#777" stroke-width="0.50" stroke-linecap="butt"/>
<line x1="676.72" y1="483.80" x2="676.72" y2="485.00" stroke="#777" stroke-width="0.50" stroke-linecap="butt"/>
<line x1="677.98" y1="483.80" x2="677.98" y2="485.00" stroke="#777" stroke-width="0.50" stroke-linecap="butt"/>
<line x1="679.07" y1="483.80" x2="679.07" y2="485.00" stroke="#777" stroke-width="0.50" stroke-linecap="butt"/>
<line x1="680.04" y1="483.80" x2="680.04" y2="485.00" stroke="#777" stroke-width="0.50" stroke-linecap="butt"/>
<line x1="680.90" y1="483.80" x2="680.90" y2="486.00" stroke="#777" stroke-width="0.50" stroke-linecap="butt"/>
<line x1="686.57" y1="483.80" x2="686.57" y2="485.00" stroke="#777" stroke-width="0.50" stroke-linecap="butt"/>
<line x1="689.89" y1="483.80" x2="689.89" y2="485.00" stroke="#777" stroke-width="0.50" stroke-linecap="butt"/>
<line x1="692.25" y1="483.80" x2="692.25" y2="485.00" stroke="#777" stroke-width="0.50" stroke-linecap="butt"/>
<line x1="694.08" y1="483.80" x2="694.08" y2="485.00" stroke="#777" stroke-width="0.50" stroke-linecap="butt"/>
<line x1="695.57" y1="483.80" x2="695.57" y2="485.00" stroke="#777" stroke-width="0.50" stroke-linecap="butt"/>
<line x1="696.83" y1="483.80" x2="696.83" y2="485.00" stroke="#777" stroke-width="0.50" stroke-linecap="butt"/>
<line x1="697.92" y1="483.80" x2="697.92" y2="485.00" stroke="#777" stroke-width="0.50" stroke-linecap="butt"/>
<line x1="698.89" y1="483.80" x2="698.89" y2="485.00" stroke="#777" stroke-width="0.50" stroke-linecap="butt"/>
<line x1="699.75" y1="483.80" x2="699.75" y2="486.00" stroke="#777" stroke-width="0.50" stroke-linecap="butt"/>
<line x1="705.42" y1="483.80" x2="705.42" y2="485.00" stroke="#777" stroke-width="0.50" stroke-linecap="butt"/>
<line x1="708.74" y1="483.80" x2="708.74" y2="485.00" stroke="#777" stroke-width="0.50" stroke-linecap="butt"/>
<line x1="711.10" y1="483.80" x2="711.10" y2="485.00" stroke="#777" stroke-width="0.50" stroke-linecap="butt"/>
<line x1="712.93" y1="483.80" x2="712.93" y2="485.00" stroke="#777" stroke-width="0.50" stroke-linecap="butt"/>
<line x1="714.42" y1="483.80" x2="714.42" y2="485.00" stroke="#777" stroke-width="0.50" stroke-linecap="butt"/>
<line x1="715.68" y1="483.80" x2="715.68" y2="485.00" stroke="#777" stroke-width="0.50" stroke-linecap="butt"/>
<line x1="716.77" y1="483.80" x2="716.77" y2="485.00" stroke="#777" stroke-width="0.50" stroke-linecap="butt"/>
<line x1="717.74" y1="483.80" x2="717.74" y2="485.00" stroke="#777" stroke-width="0.50" stroke-linecap="butt"/>
<line x1="718.60" y1="483.80" x2="718.60" y2="486.00" stroke="#777" stroke-width="0.50" stroke-linecap="butt"/>
<line x1="724.31" y1="483.80" x2="724.31" y2="485.00" stroke="#777" stroke-width="0.50" stroke-linecap="butt"/>
<line x1="727.65" y1="483.80" x2="727.65" y2="485.00" stroke="#777" stroke-width="0.50" stroke-linecap="butt"/>
<line x1="730.02" y1="483.80" x2="730.02" y2="485.00" stroke="#777" stroke-width="0.50" stroke-linecap="butt"/>
<line x1="731.86" y1="483.80" x2="731.86" y2="485.00" stroke="#777" stroke-width="0.50" stroke-linecap="butt"/>
<line x1="733.37" y1="483.80" x2="733.37" y2="485.00" stroke="#777" stroke-width="0.50" stroke-linecap="butt"/>
<line x1="734.64" y1="483.80" x2="734.64" y2="485.00" stroke="#777" stroke-width="0.50" stroke-linecap="butt"/>
<line x1="735.74" y1="483.80" x2="735.74" y2="485.00" stroke="#777" stroke-width="0.50" stroke-linecap="butt"/>
<line x1="736.71" y1="483.80" x2="736.71" y2="485.00" stroke="#777" stroke-width="0.50" stroke-linecap="butt"/>
<line x1="737.58" y1="483.80" x2="737.58" y2="486.00" stroke="#777" stroke-width="0.50" stroke-linecap="butt"/>
<line x1="743.29" y1="483.80" x2="743.29" y2="485.00" stroke="#777" stroke-width="0.50" stroke-linecap="butt"/>
<line x1="746.63" y1="483.80" x2="746.63" y2="485.00" stroke="#777" stroke-width="0.50" stroke-linecap="butt"/>
<line x1="749.00" y1="483.80" x2="749.00" y2="485.00" stroke="#777" stroke-width="0.50" stroke-linecap="butt"/>
<line x1="750.84" y1="483.80" x2="750.84" y2="485.00" stroke="#777" stroke-width="0.50" stroke-linecap="butt"/>
<line x1="752.34" y1="483.80" x2="752.34" y2="485.00" stroke="#777" stroke-width="0.50" stroke-linecap="butt"/>
<line x1="753.61" y1="483.80" x2="753.61" y2="485.00" stroke="#777" stroke-width="0.50" stroke-linecap="butt"/>
<line x1="754.71" y1="483.80" x2="754.71" y2="485.00" stroke="#777" stroke-width="0.50" stroke-linecap="butt"/>
<line x1="755.68" y1="483.80" x2="755.68" y2="485.00" stroke="#777" stroke-width="0.50" stroke-linecap="butt"/>
<line x1="756.55" y1="483.80" x2="756.55" y2="486.00" stroke="#777" stroke-width="0.50" stroke-linecap="butt"/>
<line x1="762.26" y1="483.80" x2="762.26" y2="485.00" stroke="#777" stroke-width="0.50" stroke-linecap="butt"/>
<line x1="765.60" y1="483.80" x2="765.60" y2="485.00" stroke="#777" stroke-width="0.50" stroke-linecap="butt"/>
<line x1="767.97" y1="483.80" x2="767.97" y2="485.00" stroke="#777" stroke-width="0.50" stroke-linecap="butt"/>
<line x1="769.81" y1="483.80" x2="769.81" y2="485.00" stroke="#777" stroke-width="0.50" stroke-linecap="butt"/>
<line x1="771.32" y1="483.80" x2="771.32" y2="485.00" stroke="#777" stroke-width="0.50" stroke-linecap="butt"/>
<line x1="772.59" y1="483.80" x2="772.59" y2="485.00" stroke="#777" stroke-width="0.50" stroke-linecap="butt"/>
<line x1="773.69" y1="483.80" x2="773.69" y2="485.00" stroke="#777" stroke-width="0.50" stroke-linecap="butt"/>
<line x1="774.66" y1="483.80" x2="774.66" y2="485.00" stroke="#777" stroke-width="0.50" stroke-linecap="butt"/>
<line x1="775.52" y1="483.80" x2="775.52" y2="486.00" stroke="#777" stroke-width="0.50" stroke-linecap="butt"/>
<line x1="781.24" y1="483.80" x2="781.24" y2="485.00" stroke="#777" stroke-width="0.50" stroke-linecap="butt"/>
<line x1="784.58" y1="483.80" x2="784.58" y2="485.00" stroke="#777" stroke-width="0.50" stroke-linecap="butt"/>
<line x1="786.95" y1="483.80" x2="786.95" y2="485.00" stroke="#777" stroke-width="0.50" stroke-linecap="butt"/>
<line x1="788.79" y1="483.80" x2="788.79" y2="485.00" stroke="#777" stroke-width="0.50" stroke-linecap="butt"/>
<line x1="790.29" y1="483.80" x2="790.29" y2="485.00" stroke="#777" stroke-width="0.50" stroke-linecap="butt"/>
<line x1="791.56" y1="483.80" x2="791.56" y2="485.00" stroke="#777" stroke-width="0.50" stroke-linecap="butt"/>
<line x1="792.66" y1="483.80" x2="792.66" y2="485.00" stroke="#777" stroke-width="0.50" stroke-linecap="butt"/>
<line x1="793.63" y1="483.80" x2="793.63" y2="485.00" stroke="#777" stroke-width="0.50" stroke-linecap="butt"/>
<line x1="794.50" y1="483.80" x2="794.50" y2="486.00" stroke="#777" stroke-width="0.50" stroke-linecap="butt"/>
<rect x="567.50" y="407.50" width="227.00" height="76.00" fill="none" stroke="#8e8e8e" stroke-width="1.00"/>
<line x1="567.50" y1="407.50" x2="567.50" y2="483.50" stroke="#3c3c3c" stroke-width="1.00" stroke-linecap="butt"/>
<line x1="567.50" y1="483.50" x2="794.50" y2="483.50" stroke="#666" stroke-width="1.00" stroke-linecap="butt"/>
<line x1="643.50" y1="407.50" x2="643.50" y2="483.50" stroke="#8e8e8e" stroke-width="1.00" stroke-linecap="butt"/>
<line x1="718.50" y1="407.50" x2="718.50" y2="483.50" stroke="#8e8e8e" stroke-width="1.00" stroke-linecap="butt"/>
<text x="612.00" y="445.60" font-size="13.50" text-anchor="start">8.8%</text>
<text x="691.50" y="445.60" font-size="13.50" text-anchor="start">16%</text>
<text x="761.50" y="445.60" font-size="13.50" text-anchor="start">4.3%</text>
<text x="562.00" y="445.00" font-size="13.50" text-anchor="middle" transform="rotate(-90 562.00 445.00)">CD4</text>
<text x="569.80" y="499.70" font-size="13.50" text-anchor="start">Annexin V</text>
<line x1="634.50" y1="494.60" x2="772.90" y2="494.60" stroke="#000" stroke-width="1.20" stroke-linecap="butt"/>
<path d="M777.00 494.60 L771.40 492.50 L773.00 494.60 L771.40 496.70 Z" fill="#000"/>
<text x="105.60" y="168.60" font-size="16.40" text-anchor="start">%CD4<tspan dy="-5.25" font-size="9.18">+</tspan></text>
<path d="M71.60 184.45 V269.60 H197.50" stroke="#000" stroke-width="1.50" fill="none" stroke-linejoin="miter"/>
<line x1="67.90" y1="185.20" x2="71.60" y2="185.20" stroke="#000" stroke-width="1.50" stroke-linecap="butt"/>
<text x="67.80" y="189.47" font-size="11.10" text-anchor="end">30</text>
<line x1="67.90" y1="213.30" x2="71.60" y2="213.30" stroke="#000" stroke-width="1.50" stroke-linecap="butt"/>
<text x="67.80" y="217.57" font-size="11.10" text-anchor="end">20</text>
<line x1="67.90" y1="241.50" x2="71.60" y2="241.50" stroke="#000" stroke-width="1.50" stroke-linecap="butt"/>
<text x="67.80" y="245.77" font-size="11.10" text-anchor="end">10</text>
<line x1="67.90" y1="269.60" x2="71.60" y2="269.60" stroke="#000" stroke-width="1.50" stroke-linecap="butt"/>
<text x="67.80" y="273.87" font-size="11.10" text-anchor="end">0</text>
<path d="M105.30 184.50 V181.20 H166.40 V184.50" stroke="#000" stroke-width="1.50" fill="none" stroke-linejoin="miter"/>
<text x="138.00" y="184.19" font-size="14.00" text-anchor="middle" stroke="#000" stroke-width="0.45">*</text>
<line x1="82.50" y1="232.00" x2="124.30" y2="232.00" stroke="#000" stroke-width="1.50" stroke-linecap="butt"/>
<circle cx="89.00" cy="230.00" r="4.60" fill="#000"/>
<circle cx="96.00" cy="232.60" r="4.60" fill="#000"/>
<circle cx="103.30" cy="224.70" r="4.60" fill="#000"/>
<circle cx="103.30" cy="240.90" r="4.60" fill="#000"/>
<circle cx="110.70" cy="233.90" r="4.60" fill="#000"/>
<circle cx="117.70" cy="232.00" r="4.60" fill="#000"/>
<line x1="145.50" y1="205.20" x2="187.90" y2="205.20" stroke="#000" stroke-width="1.50" stroke-linecap="butt"/>
<circle cx="151.00" cy="194.90" r="4.25" fill="#fff" stroke="#000" stroke-width="1.50"/>
<circle cx="161.50" cy="201.90" r="4.25" fill="#fff" stroke="#000" stroke-width="1.50"/>
<circle cx="159.90" cy="219.40" r="4.25" fill="#fff" stroke="#000" stroke-width="1.50"/>
<circle cx="172.20" cy="204.90" r="4.25" fill="#fff" stroke="#000" stroke-width="1.50"/>
<circle cx="173.50" cy="208.40" r="4.25" fill="#fff" stroke="#000" stroke-width="1.50"/>
<circle cx="182.50" cy="200.10" r="4.25" fill="#fff" stroke="#000" stroke-width="1.50"/>
<text x="72.00" y="285.30" font-size="13.60" text-anchor="start">Untreated</text>
<text x="142.30" y="285.30" font-size="13.60" text-anchor="start">PLX4720</text>
<text x="31.00" y="225.60" font-size="13.80" text-anchor="middle" transform="rotate(-90 31.00 225.60)">%of CD45<tspan dy="-4.14" font-size="9.94">+</tspan><tspan dy="4.14"> that</tspan></text>
<text x="49.00" y="223.60" font-size="13.80" text-anchor="middle" transform="rotate(-90 49.00 223.60)">are CD4<tspan dy="-4.14" font-size="9.94">+</tspan></text>
<text x="336.80" y="171.60" font-size="16.40" text-anchor="start">%FoxP3<tspan dy="-5.25" font-size="9.18">+</tspan></text>
<path d="M305.15 184.45 V270.00 H431.50" stroke="#000" stroke-width="1.50" fill="none" stroke-linejoin="miter"/>
<line x1="301.45" y1="185.20" x2="305.15" y2="185.20" stroke="#000" stroke-width="1.50" stroke-linecap="butt"/>
<text x="301.35" y="189.44" font-size="11.00" text-anchor="end">80</text>
<line x1="301.45" y1="206.40" x2="305.15" y2="206.40" stroke="#000" stroke-width="1.50" stroke-linecap="butt"/>
<text x="301.35" y="210.64" font-size="11.00" text-anchor="end">60</text>
<line x1="301.45" y1="227.60" x2="305.15" y2="227.60" stroke="#000" stroke-width="1.50" stroke-linecap="butt"/>
<text x="301.35" y="231.84" font-size="11.00" text-anchor="end">40</text>
<line x1="301.45" y1="248.80" x2="305.15" y2="248.80" stroke="#000" stroke-width="1.50" stroke-linecap="butt"/>
<text x="301.35" y="253.04" font-size="11.00" text-anchor="end">20</text>
<line x1="301.45" y1="270.00" x2="305.15" y2="270.00" stroke="#000" stroke-width="1.50" stroke-linecap="butt"/>
<text x="301.35" y="274.24" font-size="11.00" text-anchor="end">0</text>
<path d="M338.20 193.50 V190.20 H400.10 V193.50" stroke="#000" stroke-width="1.50" fill="none" stroke-linejoin="miter"/>
<text x="369.90" y="192.59" font-size="14.00" text-anchor="middle" stroke="#000" stroke-width="0.45">***</text>
<line x1="315.60" y1="216.70" x2="358.00" y2="216.70" stroke="#000" stroke-width="1.50" stroke-linecap="butt"/>
<circle cx="322.50" cy="212.00" r="4.60" fill="#000"/>
<circle cx="329.80" cy="215.80" r="4.60" fill="#000"/>
<circle cx="336.70" cy="221.40" r="4.60" fill="#000"/>
<circle cx="344.00" cy="220.70" r="4.60" fill="#000"/>
<circle cx="351.00" cy="213.20" r="4.60" fill="#000"/>
<line x1="387.00" y1="235.00" x2="422.00" y2="235.00" stroke="#000" stroke-width="1.50" stroke-linecap="butt"/>
<circle cx="384.20" cy="235.70" r="4.25" fill="#fff" stroke="#000" stroke-width="1.50"/>
<circle cx="395.00" cy="237.10" r="4.25" fill="#fff" stroke="#000" stroke-width="1.50"/>
<circle cx="405.50" cy="235.70" r="4.25" fill="#fff" stroke="#000" stroke-width="1.50"/>
<circle cx="416.30" cy="231.30" r="4.25" fill="#fff" stroke="#000" stroke-width="1.50"/>
<text x="307.20" y="285.60" font-size="13.60" text-anchor="start">Untreated</text>
<text x="374.30" y="285.60" font-size="13.60" text-anchor="start">PLX4720</text>
<text x="266.60" y="226.60" font-size="13.80" text-anchor="middle" transform="rotate(-90 266.60 226.60)">%of CD4+ that</text>
<text x="281.80" y="224.70" font-size="13.80" text-anchor="middle" transform="rotate(-90 281.80 224.70)">are FoxP3+</text>
<text x="85.70" y="332.90" font-size="16.65" text-anchor="start">Number CD4<tspan dy="-5.33" font-size="9.32">+</tspan></text>
<path d="M71.60 344.75 V430.50 H197.50" stroke="#000" stroke-width="1.50" fill="none" stroke-linejoin="miter"/>
<line x1="67.90" y1="345.50" x2="71.60" y2="345.50" stroke="#000" stroke-width="1.50" stroke-linecap="butt"/>
<text x="67.80" y="349.74" font-size="11.00" text-anchor="end">10000</text>
<line x1="67.90" y1="366.80" x2="71.60" y2="366.80" stroke="#000" stroke-width="1.50" stroke-linecap="butt"/>
<text x="67.80" y="371.04" font-size="11.00" text-anchor="end">7500</text>
<line x1="67.90" y1="388.00" x2="71.60" y2="388.00" stroke="#000" stroke-width="1.50" stroke-linecap="butt"/>
<text x="67.80" y="392.24" font-size="11.00" text-anchor="end">5000</text>
<line x1="67.90" y1="409.30" x2="71.60" y2="409.30" stroke="#000" stroke-width="1.50" stroke-linecap="butt"/>
<text x="67.80" y="413.54" font-size="11.00" text-anchor="end">2500</text>
<line x1="67.90" y1="430.50" x2="71.60" y2="430.50" stroke="#000" stroke-width="1.50" stroke-linecap="butt"/>
<text x="67.80" y="434.74" font-size="11.00" text-anchor="end">0</text>
<path d="M105.50 357.10 V353.80 H166.30 V357.10" stroke="#000" stroke-width="1.50" fill="none" stroke-linejoin="miter"/>
<text x="136.80" y="351.80" font-size="12.50" text-anchor="middle" font-style="italic">NS</text>
<line x1="82.50" y1="404.00" x2="124.30" y2="404.00" stroke="#000" stroke-width="1.50" stroke-linecap="butt"/>
<circle cx="103.50" cy="374.50" r="4.60" fill="#000"/>
<circle cx="96.30" cy="387.50" r="4.60" fill="#000"/>
<circle cx="110.50" cy="391.80" r="4.60" fill="#000"/>
<circle cx="89.50" cy="398.80" r="4.60" fill="#000"/>
<circle cx="103.50" cy="407.50" r="4.60" fill="#000"/>
<circle cx="117.50" cy="407.50" r="4.60" fill="#000"/>
<line x1="146.30" y1="419.30" x2="188.00" y2="419.30" stroke="#000" stroke-width="1.50" stroke-linecap="butt"/>
<circle cx="146.30" cy="403.80" r="4.25" fill="#fff" stroke="#000" stroke-width="1.50"/>
<circle cx="153.30" cy="411.30" r="4.25" fill="#fff" stroke="#000" stroke-width="1.50"/>
<circle cx="167.00" cy="403.30" r="4.25" fill="#fff" stroke="#000" stroke-width="1.50"/>
<circle cx="167.00" cy="420.00" r="4.25" fill="#fff" stroke="#000" stroke-width="1.50"/>
<circle cx="181.00" cy="397.00" r="4.25" fill="#fff" stroke="#000" stroke-width="1.50"/>
<circle cx="181.00" cy="413.00" r="4.25" fill="#fff" stroke="#000" stroke-width="1.50"/>
<text x="72.00" y="446.00" font-size="13.60" text-anchor="start">Untreated</text>
<text x="143.20" y="446.00" font-size="13.60" text-anchor="start">PLX4720</text>
<text x="32.50" y="386.00" font-size="13.80" text-anchor="middle" transform="rotate(-90 32.50 386.00)"># cells/g tumor</text>
<text x="310.40" y="332.90" font-size="16.60" text-anchor="start">Number FoxP3<tspan dy="-5.31" font-size="9.30">+</tspan></text>
<path d="M305.15 346.75 V431.30 H431.50" stroke="#000" stroke-width="1.50" fill="none" stroke-linejoin="miter"/>
<line x1="301.45" y1="347.50" x2="305.15" y2="347.50" stroke="#000" stroke-width="1.50" stroke-linecap="butt"/>
<text x="301.35" y="351.74" font-size="11.00" text-anchor="end">5000</text>
<line x1="301.45" y1="364.30" x2="305.15" y2="364.30" stroke="#000" stroke-width="1.50" stroke-linecap="butt"/>
<text x="301.35" y="368.54" font-size="11.00" text-anchor="end">4000</text>
<line x1="301.45" y1="381.00" x2="305.15" y2="381.00" stroke="#000" stroke-width="1.50" stroke-linecap="butt"/>
<text x="301.35" y="385.24" font-size="11.00" text-anchor="end">3000</text>
<line x1="301.45" y1="397.80" x2="305.15" y2="397.80" stroke="#000" stroke-width="1.50" stroke-linecap="butt"/>
<text x="301.35" y="402.04" font-size="11.00" text-anchor="end">2000</text>
<line x1="301.45" y1="414.50" x2="305.15" y2="414.50" stroke="#000" stroke-width="1.50" stroke-linecap="butt"/>
<text x="301.35" y="418.74" font-size="11.00" text-anchor="end">1000</text>
<line x1="301.45" y1="431.30" x2="305.15" y2="431.30" stroke="#000" stroke-width="1.50" stroke-linecap="butt"/>
<text x="301.35" y="435.54" font-size="11.00" text-anchor="end">0</text>
<path d="M337.30 353.80 V350.50 H396.60 V353.80" stroke="#000" stroke-width="1.50" fill="none" stroke-linejoin="miter"/>
<text x="369.30" y="352.19" font-size="14.00" text-anchor="middle" stroke="#000" stroke-width="0.45">**</text>
<line x1="316.30" y1="383.80" x2="358.80" y2="383.80" stroke="#000" stroke-width="1.50" stroke-linecap="butt"/>
<circle cx="324.30" cy="371.80" r="4.60" fill="#000"/>
<circle cx="337.50" cy="376.80" r="4.60" fill="#000"/>
<circle cx="351.30" cy="366.30" r="4.60" fill="#000"/>
<circle cx="330.80" cy="402.50" r="4.60" fill="#000"/>
<circle cx="344.50" cy="402.00" r="4.60" fill="#000"/>
<line x1="380.00" y1="416.80" x2="422.00" y2="416.80" stroke="#000" stroke-width="1.50" stroke-linecap="butt"/>
<circle cx="386.30" cy="413.30" r="4.25" fill="#fff" stroke="#000" stroke-width="1.50"/>
<circle cx="393.80" cy="414.50" r="4.25" fill="#fff" stroke="#000" stroke-width="1.50"/>
<circle cx="400.80" cy="422.00" r="4.25" fill="#fff" stroke="#000" stroke-width="1.50"/>
<circle cx="408.00" cy="419.30" r="4.25" fill="#fff" stroke="#000" stroke-width="1.50"/>
<circle cx="415.00" cy="413.00" r="4.25" fill="#fff" stroke="#000" stroke-width="1.50"/>
<text x="308.50" y="446.00" font-size="13.60" text-anchor="start">Untreated</text>
<text x="377.00" y="446.00" font-size="13.60" text-anchor="start">PLX4720</text>
<text x="269.60" y="387.60" font-size="13.80" text-anchor="middle" transform="rotate(-90 269.60 387.60)"># cells/g tumor</text>
<text x="104.20" y="533.00" font-size="16.50" text-anchor="start">Number FoxP3<tspan dy="-5.28" font-size="9.24">+</tspan></text>
<path d="M98.40 551.35 V636.40 H228.00" stroke="#000" stroke-width="1.50" fill="none" stroke-linejoin="miter"/>
<line x1="93.40" y1="552.10" x2="98.40" y2="552.10" stroke="#000" stroke-width="1.50" stroke-linecap="butt"/>
<text x="93.30" y="557.34" font-size="13.60" text-anchor="end">30000</text>
<line x1="93.40" y1="580.10" x2="98.40" y2="580.10" stroke="#000" stroke-width="1.50" stroke-linecap="butt"/>
<text x="93.30" y="585.34" font-size="13.60" text-anchor="end">20000</text>
<line x1="93.40" y1="608.20" x2="98.40" y2="608.20" stroke="#000" stroke-width="1.50" stroke-linecap="butt"/>
<text x="93.30" y="613.44" font-size="13.60" text-anchor="end">10000</text>
<line x1="93.40" y1="636.40" x2="98.40" y2="636.40" stroke="#000" stroke-width="1.50" stroke-linecap="butt"/>
<text x="93.30" y="641.64" font-size="13.60" text-anchor="end">0</text>
<path d="M121.20 556.40 V553.40 H203.00 V556.40" stroke="#000" stroke-width="1.70" fill="none" stroke-linejoin="miter"/>
<path d="M121.20 564.90 V561.90 H160.50 V564.90" stroke="#000" stroke-width="1.70" fill="none" stroke-linejoin="miter"/>
<path d="M161.70 564.90 V561.90 H203.00 V564.90" stroke="#000" stroke-width="1.70" fill="none" stroke-linejoin="miter"/>
<text x="161.00" y="556.59" font-size="14.00" text-anchor="middle" stroke="#000" stroke-width="0.45">*</text>
<text x="140.00" y="564.99" font-size="14.00" text-anchor="middle" stroke="#000" stroke-width="0.45">**</text>
<text x="183.80" y="564.99" font-size="14.00" text-anchor="middle" stroke="#000" stroke-width="0.45">*</text>
<line x1="105.50" y1="628.80" x2="132.50" y2="628.80" stroke="#000" stroke-width="1.50" stroke-linecap="butt"/>
<circle cx="112.00" cy="625.60" r="4.50" fill="#000"/>
<circle cx="126.20" cy="626.50" r="4.50" fill="#000"/>
<circle cx="116.50" cy="629.00" r="4.50" fill="#000"/>
<circle cx="121.00" cy="631.60" r="4.50" fill="#000"/>
<circle cx="120.00" cy="631.90" r="4.50" fill="#000"/>
<circle cx="152.00" cy="633.50" r="4.30" fill="none" stroke="#000" stroke-width="1.50"/>
<circle cx="155.00" cy="635.00" r="4.30" fill="none" stroke="#000" stroke-width="1.50"/>
<circle cx="157.50" cy="635.50" r="4.30" fill="none" stroke="#000" stroke-width="1.50"/>
<circle cx="163.50" cy="634.50" r="4.30" fill="none" stroke="#000" stroke-width="1.50"/>
<circle cx="166.50" cy="633.50" r="4.30" fill="none" stroke="#000" stroke-width="1.50"/>
<line x1="146.20" y1="634.50" x2="172.80" y2="634.50" stroke="#000" stroke-width="1.40" stroke-linecap="butt"/>
<line x1="193.50" y1="608.90" x2="219.60" y2="608.90" stroke="#000" stroke-width="1.50" stroke-linecap="butt"/>
<circle cx="206.70" cy="578.10" r="4.60" fill="#000"/>
<circle cx="200.20" cy="609.00" r="4.60" fill="#000"/>
<circle cx="220.70" cy="610.80" r="4.60" fill="#000"/>
<circle cx="213.40" cy="616.30" r="4.60" fill="#000"/>
<circle cx="200.30" cy="628.60" r="4.60" fill="#000"/>
<text x="98.40" y="655.00" font-size="13.60" text-anchor="end">Tumor Size:</text>
<text x="117.80" y="655.00" font-size="13.60" text-anchor="middle">8mm</text>
<text x="159.80" y="655.00" font-size="13.60" text-anchor="middle">4mm</text>
<text x="209.30" y="655.00" font-size="13.60" text-anchor="middle">4mm</text>
<text x="99.40" y="671.60" font-size="13.60" text-anchor="end">Tumor Days:</text>
<text x="118.60" y="671.60" font-size="13.60" text-anchor="middle">38d</text>
<text x="160.60" y="671.60" font-size="13.60" text-anchor="middle">38d</text>
<text x="209.60" y="671.60" font-size="13.60" text-anchor="middle">28d</text>
<text x="100.90" y="688.10" font-size="13.60" text-anchor="end">PLX4720:</text>
<text x="118.00" y="688.10" font-size="13.60" text-anchor="middle">-</text>
<text x="158.40" y="688.10" font-size="13.60" text-anchor="middle">+</text>
<text x="209.60" y="688.10" font-size="13.60" text-anchor="middle">-</text>
<text x="31.00" y="591.60" font-size="13.70" text-anchor="middle" transform="rotate(-90 31.00 591.60)"># cells/</text>
<text x="46.40" y="591.70" font-size="13.90" text-anchor="middle" transform="rotate(-90 46.40 591.70)">g tumor</text>
<text x="622.20" y="38.60" font-size="16.60" text-anchor="start">Braf/Pten TDLN</text>
<path d="M622.00 52.25 V137.70 H748.00" stroke="#000" stroke-width="1.50" fill="none" stroke-linejoin="miter"/>
<line x1="617.80" y1="53.00" x2="622.00" y2="53.00" stroke="#000" stroke-width="1.50" stroke-linecap="butt"/>
<text x="617.70" y="57.23" font-size="11.00" text-anchor="end">25</text>
<line x1="617.80" y1="70.20" x2="622.00" y2="70.20" stroke="#000" stroke-width="1.50" stroke-linecap="butt"/>
<text x="617.70" y="74.44" font-size="11.00" text-anchor="end">20</text>
<line x1="617.80" y1="87.00" x2="622.00" y2="87.00" stroke="#000" stroke-width="1.50" stroke-linecap="butt"/>
<text x="617.70" y="91.23" font-size="11.00" text-anchor="end">15</text>
<line x1="617.80" y1="104.00" x2="622.00" y2="104.00" stroke="#000" stroke-width="1.50" stroke-linecap="butt"/>
<text x="617.70" y="108.23" font-size="11.00" text-anchor="end">10</text>
<line x1="617.80" y1="120.80" x2="622.00" y2="120.80" stroke="#000" stroke-width="1.50" stroke-linecap="butt"/>
<text x="617.70" y="125.03" font-size="11.00" text-anchor="end">5</text>
<line x1="617.80" y1="137.70" x2="622.00" y2="137.70" stroke="#000" stroke-width="1.50" stroke-linecap="butt"/>
<text x="617.70" y="141.94" font-size="11.00" text-anchor="end">0</text>
<path d="M653.00 61.80 V58.50 H720.00 V61.80" stroke="#000" stroke-width="1.50" fill="none" stroke-linejoin="miter"/>
<text x="689.40" y="57.20" font-size="12.50" text-anchor="middle" font-style="italic">NS</text>
<line x1="632.40" y1="76.80" x2="674.80" y2="76.80" stroke="#000" stroke-width="1.50" stroke-linecap="butt"/>
<circle cx="640.20" cy="74.00" r="4.75" fill="#000"/>
<circle cx="653.80" cy="82.70" r="4.75" fill="#000"/>
<circle cx="667.00" cy="74.00" r="4.75" fill="#000"/>
<circle cx="703.50" cy="77.80" r="4.30" fill="none" stroke="#000" stroke-width="1.60"/>
<circle cx="716.80" cy="80.90" r="4.30" fill="none" stroke="#000" stroke-width="1.60"/>
<circle cx="730.50" cy="79.10" r="4.30" fill="none" stroke="#000" stroke-width="1.60"/>
<line x1="696.20" y1="79.40" x2="737.90" y2="79.40" stroke="#000" stroke-width="1.35" stroke-linecap="butt"/>
<text x="623.20" y="153.50" font-size="13.60" text-anchor="start">Untreated</text>
<text x="689.80" y="153.50" font-size="13.80" text-anchor="start">PLX4720</text>
<text x="599.00" y="163.00" font-size="14.30" text-anchor="middle" transform="rotate(-90 599.00 163.00)">%of CD4<tspan dy="-4.72" font-size="8.01">+</tspan><tspan dy="4.72"> that are FoxP3</tspan><tspan dy="-4.72" font-size="8.01">+</tspan></text>
<text x="640.40" y="186.00" font-size="16.70" text-anchor="start">B16 tumors</text>
<path d="M622.00 200.85 V286.10 H748.80" stroke="#000" stroke-width="1.50" fill="none" stroke-linejoin="miter"/>
<line x1="617.80" y1="201.60" x2="622.00" y2="201.60" stroke="#000" stroke-width="1.50" stroke-linecap="butt"/>
<text x="617.70" y="205.84" font-size="11.00" text-anchor="end">60</text>
<line x1="617.80" y1="229.80" x2="622.00" y2="229.80" stroke="#000" stroke-width="1.50" stroke-linecap="butt"/>
<text x="617.70" y="234.04" font-size="11.00" text-anchor="end">40</text>
<line x1="617.80" y1="257.90" x2="622.00" y2="257.90" stroke="#000" stroke-width="1.50" stroke-linecap="butt"/>
<text x="617.70" y="262.13" font-size="11.00" text-anchor="end">20</text>
<line x1="617.80" y1="286.10" x2="622.00" y2="286.10" stroke="#000" stroke-width="1.50" stroke-linecap="butt"/>
<text x="617.70" y="290.34" font-size="11.00" text-anchor="end">0</text>
<path d="M656.30 208.90 V205.60 H715.60 V208.90" stroke="#000" stroke-width="1.50" fill="none" stroke-linejoin="miter"/>
<text x="688.40" y="200.80" font-size="12.50" text-anchor="middle" font-style="italic">NS</text>
<line x1="633.00" y1="246.90" x2="675.00" y2="246.90" stroke="#000" stroke-width="1.50" stroke-linecap="butt"/>
<circle cx="638.40" cy="246.00" r="4.75" fill="#000"/>
<circle cx="648.80" cy="251.50" r="4.75" fill="#000"/>
<circle cx="659.40" cy="250.00" r="4.75" fill="#000"/>
<circle cx="669.70" cy="241.50" r="4.75" fill="#000"/>
<line x1="696.30" y1="236.90" x2="738.40" y2="236.90" stroke="#000" stroke-width="1.50" stroke-linecap="butt"/>
<circle cx="711.00" cy="220.30" r="4.30" fill="#fff" stroke="#000" stroke-width="1.60"/>
<circle cx="711.00" cy="251.00" r="4.30" fill="#fff" stroke="#000" stroke-width="1.60"/>
<circle cx="723.80" cy="243.00" r="4.30" fill="#fff" stroke="#000" stroke-width="1.60"/>
<circle cx="731.30" cy="232.80" r="4.30" fill="#fff" stroke="#000" stroke-width="1.60"/>
<text x="623.20" y="303.00" font-size="13.60" text-anchor="start">Untreated</text>
<text x="690.40" y="303.00" font-size="13.80" text-anchor="start">PLX4720</text>
<path d="M609.30 549.95 V635.00 H736.00" stroke="#000" stroke-width="1.50" fill="none" stroke-linejoin="miter"/>
<line x1="605.70" y1="550.70" x2="609.30" y2="550.70" stroke="#000" stroke-width="1.50" stroke-linecap="butt"/>
<text x="605.60" y="555.01" font-size="11.20" text-anchor="end">40</text>
<line x1="605.70" y1="571.80" x2="609.30" y2="571.80" stroke="#000" stroke-width="1.50" stroke-linecap="butt"/>
<text x="605.60" y="576.11" font-size="11.20" text-anchor="end">30</text>
<line x1="605.70" y1="592.80" x2="609.30" y2="592.80" stroke="#000" stroke-width="1.50" stroke-linecap="butt"/>
<text x="605.60" y="597.11" font-size="11.20" text-anchor="end">20</text>
<line x1="605.70" y1="613.90" x2="609.30" y2="613.90" stroke="#000" stroke-width="1.50" stroke-linecap="butt"/>
<text x="605.60" y="618.21" font-size="11.20" text-anchor="end">10</text>
<line x1="605.70" y1="635.00" x2="609.30" y2="635.00" stroke="#000" stroke-width="1.50" stroke-linecap="butt"/>
<text x="605.60" y="639.31" font-size="11.20" text-anchor="end">0</text>
<path d="M629.70 558.80 V556.00 H715.60 V558.80" stroke="#000" stroke-width="1.60" fill="none" stroke-linejoin="miter"/>
<path d="M629.70 567.90 V565.10 H672.20 V567.90" stroke="#000" stroke-width="1.60" fill="none" stroke-linejoin="miter"/>
<path d="M673.30 567.90 V565.10 H715.60 V567.90" stroke="#000" stroke-width="1.60" fill="none" stroke-linejoin="miter"/>
<text x="676.50" y="553.90" font-size="13.00" text-anchor="middle" font-style="italic">NS</text>
<text x="652.30" y="567.59" font-size="14.00" text-anchor="middle" stroke="#000" stroke-width="0.45">*</text>
<text x="695.60" y="567.59" font-size="14.00" text-anchor="middle" stroke="#000" stroke-width="0.45">**</text>
<line x1="616.20" y1="616.80" x2="644.40" y2="616.80" stroke="#000" stroke-width="1.50" stroke-linecap="butt"/>
<circle cx="623.60" cy="606.60" r="4.80" fill="#000"/>
<circle cx="637.00" cy="610.80" r="4.80" fill="#000"/>
<circle cx="623.10" cy="616.50" r="4.80" fill="#000"/>
<circle cx="637.80" cy="621.30" r="4.80" fill="#000"/>
<circle cx="630.50" cy="627.70" r="4.80" fill="#000"/>
<circle cx="672.50" cy="580.30" r="4.30" fill="none" stroke="#000" stroke-width="1.60"/>
<circle cx="665.50" cy="601.80" r="4.30" fill="none" stroke="#000" stroke-width="1.60"/>
<circle cx="676.10" cy="602.40" r="4.30" fill="none" stroke="#000" stroke-width="1.60"/>
<circle cx="679.50" cy="601.50" r="4.30" fill="none" stroke="#000" stroke-width="1.60"/>
<circle cx="669.10" cy="614.10" r="4.30" fill="none" stroke="#000" stroke-width="1.60"/>
<line x1="658.80" y1="600.00" x2="686.60" y2="600.00" stroke="#000" stroke-width="1.50" stroke-linecap="butt"/>
<line x1="700.60" y1="624.00" x2="729.10" y2="624.00" stroke="#000" stroke-width="1.50" stroke-linecap="butt"/>
<circle cx="707.40" cy="619.30" r="4.60" fill="#000"/>
<circle cx="722.60" cy="619.70" r="4.60" fill="#000"/>
<circle cx="711.30" cy="625.70" r="4.60" fill="#000"/>
<circle cx="715.00" cy="627.60" r="4.60" fill="#000"/>
<circle cx="719.20" cy="626.00" r="4.60" fill="#000"/>
<text x="609.50" y="655.00" font-size="13.55" text-anchor="end">Tumor Size:</text>
<text x="634.00" y="655.00" font-size="14.00" text-anchor="middle">6mm</text>
<text x="676.30" y="655.00" font-size="14.00" text-anchor="middle">4mm</text>
<text x="714.30" y="655.00" font-size="14.00" text-anchor="middle">4mm</text>
<text x="611.30" y="671.10" font-size="13.50" text-anchor="end">Tumor Days:</text>
<text x="635.00" y="671.10" font-size="14.00" text-anchor="middle">32d</text>
<text x="676.60" y="671.10" font-size="14.00" text-anchor="middle">32d</text>
<text x="715.00" y="671.10" font-size="14.00" text-anchor="middle">28d</text>
<text x="609.00" y="687.20" font-size="13.50" text-anchor="end">PLX4720:</text>
<text x="630.80" y="687.20" font-size="14.00" text-anchor="middle">-</text>
<text x="675.00" y="687.20" font-size="14.00" text-anchor="middle">+</text>
<text x="715.00" y="687.20" font-size="14.00" text-anchor="middle">-</text>
<text x="583.90" y="591.80" font-size="13.70" text-anchor="middle" transform="rotate(-90 583.90 591.80)">% AnnexinV+</text>
</g>
</svg>
</body></html>
